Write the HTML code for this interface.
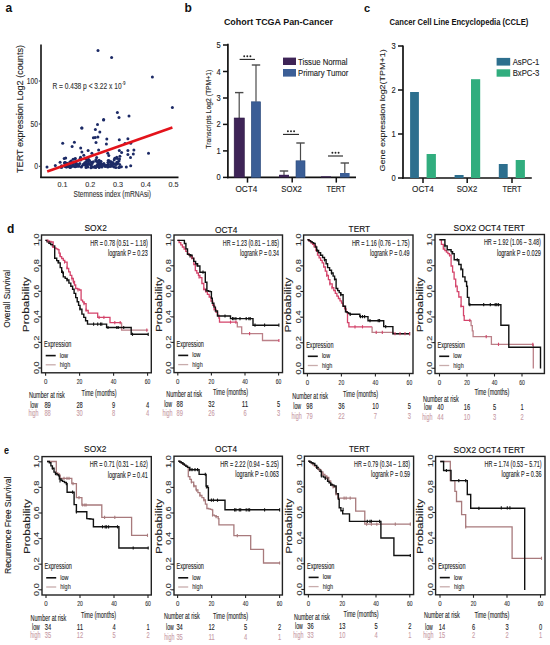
<!DOCTYPE html>
<html><head><meta charset="utf-8"><style>
html,body{margin:0;padding:0;background:#fff;}
svg{display:block;font-family:"Liberation Sans", sans-serif;}
</style></head><body>
<svg width="550" height="645" viewBox="0 0 550 645">
<rect x="0" y="0" width="550" height="645" fill="#fff"/>
<text x="5.5" y="11.8" font-size="12" font-weight="700" fill="#111" text-anchor="start">a</text>
<text transform="translate(23.4,109.0) rotate(-90)" x="0" y="0" font-size="9" font-weight="400" fill="#222" text-anchor="middle" textLength="128.0" lengthAdjust="spacingAndGlyphs" stroke="#222" stroke-width="0.12">TERT expression Log2 (counts)</text>
<line x1="41.0" y1="44.5" x2="41.0" y2="178.0" stroke="#111" stroke-width="1.6"/>
<line x1="40.2" y1="177.4" x2="178.5" y2="177.4" stroke="#111" stroke-width="1.7"/>
<line x1="38.8" y1="81.0" x2="41.0" y2="81.0" stroke="#333" stroke-width="1"/>
<text x="38.0" y="83.9" font-size="8.2" font-weight="400" fill="#333" text-anchor="end" textLength="11.2" lengthAdjust="spacingAndGlyphs" stroke="#333" stroke-width="0.12">100</text>
<line x1="38.8" y1="124.0" x2="41.0" y2="124.0" stroke="#333" stroke-width="1"/>
<text x="38.0" y="126.9" font-size="8.2" font-weight="400" fill="#333" text-anchor="end" textLength="7.5" lengthAdjust="spacingAndGlyphs" stroke="#333" stroke-width="0.12">50</text>
<line x1="38.8" y1="166.3" x2="41.0" y2="166.3" stroke="#333" stroke-width="1"/>
<text x="38.0" y="169.2" font-size="8.2" font-weight="400" fill="#333" text-anchor="end" textLength="3.8" lengthAdjust="spacingAndGlyphs" stroke="#333" stroke-width="0.12">0</text>
<text x="62.4" y="186.6" font-size="7.6" font-weight="400" fill="#333" text-anchor="middle" textLength="10.0" lengthAdjust="spacingAndGlyphs" stroke="#333" stroke-width="0.12">0.1</text>
<text x="90.2" y="186.6" font-size="7.6" font-weight="400" fill="#333" text-anchor="middle" textLength="10.0" lengthAdjust="spacingAndGlyphs" stroke="#333" stroke-width="0.12">0.2</text>
<text x="118.0" y="186.6" font-size="7.6" font-weight="400" fill="#333" text-anchor="middle" textLength="10.0" lengthAdjust="spacingAndGlyphs" stroke="#333" stroke-width="0.12">0.3</text>
<text x="145.8" y="186.6" font-size="7.6" font-weight="400" fill="#333" text-anchor="middle" textLength="10.0" lengthAdjust="spacingAndGlyphs" stroke="#333" stroke-width="0.12">0.4</text>
<text x="173.6" y="186.6" font-size="7.6" font-weight="400" fill="#333" text-anchor="middle" textLength="10.0" lengthAdjust="spacingAndGlyphs" stroke="#333" stroke-width="0.12">0.5</text>
<text x="73.6" y="197.0" font-size="9" font-weight="400" fill="#333" text-anchor="start" textLength="77.3" lengthAdjust="spacingAndGlyphs" stroke="#333" stroke-width="0.12">Stemness index (mRNAsi)</text>
<text x="52.4" y="89.0" font-size="8.4" font-weight="400" fill="#333" text-anchor="start" textLength="69.2" lengthAdjust="spacingAndGlyphs" stroke="#333" stroke-width="0.12">R = 0.438 p &lt; 3.22 x 10</text>
<text x="122.0" y="85.4" font-size="4.5" font-weight="400" fill="#333" text-anchor="start" textLength="3.5" lengthAdjust="spacingAndGlyphs" stroke="#333" stroke-width="0.12">-9</text>
<circle cx="47.0" cy="167.1" r="1.5" fill="#1c2a66"/>
<circle cx="55.3" cy="165.6" r="1.5" fill="#1c2a66"/>
<circle cx="60.1" cy="162.3" r="1.5" fill="#1c2a66"/>
<circle cx="62.7" cy="143.2" r="1.5" fill="#1c2a66"/>
<circle cx="72.1" cy="146.5" r="1.5" fill="#1c2a66"/>
<circle cx="74.4" cy="142.3" r="1.5" fill="#1c2a66"/>
<circle cx="81.7" cy="127.9" r="1.5" fill="#1c2a66"/>
<circle cx="80.7" cy="148.0" r="1.5" fill="#1c2a66"/>
<circle cx="88.1" cy="150.5" r="1.5" fill="#1c2a66"/>
<circle cx="91.9" cy="153.3" r="1.5" fill="#1c2a66"/>
<circle cx="97.5" cy="124.5" r="1.5" fill="#1c2a66"/>
<circle cx="95.4" cy="129.5" r="1.5" fill="#1c2a66"/>
<circle cx="99.8" cy="132.1" r="1.5" fill="#1c2a66"/>
<circle cx="93.4" cy="137.8" r="1.5" fill="#1c2a66"/>
<circle cx="95.2" cy="137.6" r="1.5" fill="#1c2a66"/>
<circle cx="97.9" cy="137.0" r="1.5" fill="#1c2a66"/>
<circle cx="96.0" cy="142.5" r="1.5" fill="#1c2a66"/>
<circle cx="98.6" cy="149.9" r="1.5" fill="#1c2a66"/>
<circle cx="106.8" cy="139.0" r="1.5" fill="#1c2a66"/>
<circle cx="106.4" cy="143.9" r="1.5" fill="#1c2a66"/>
<circle cx="103.6" cy="120.0" r="1.5" fill="#1c2a66"/>
<circle cx="119.3" cy="139.7" r="1.5" fill="#1c2a66"/>
<circle cx="127.9" cy="138.8" r="1.5" fill="#1c2a66"/>
<circle cx="125.0" cy="143.5" r="1.5" fill="#1c2a66"/>
<circle cx="130.7" cy="143.2" r="1.5" fill="#1c2a66"/>
<circle cx="107.8" cy="153.3" r="1.5" fill="#1c2a66"/>
<circle cx="108.8" cy="155.6" r="1.5" fill="#1c2a66"/>
<circle cx="119.3" cy="150.5" r="1.5" fill="#1c2a66"/>
<circle cx="121.6" cy="152.5" r="1.5" fill="#1c2a66"/>
<circle cx="127.9" cy="150.5" r="1.5" fill="#1c2a66"/>
<circle cx="133.9" cy="149.9" r="1.5" fill="#1c2a66"/>
<circle cx="127.9" cy="154.4" r="1.5" fill="#1c2a66"/>
<circle cx="133.3" cy="154.1" r="1.5" fill="#1c2a66"/>
<circle cx="130.5" cy="157.5" r="1.5" fill="#1c2a66"/>
<circle cx="148.5" cy="153.3" r="1.5" fill="#1c2a66"/>
<circle cx="119.9" cy="156.3" r="1.5" fill="#1c2a66"/>
<circle cx="116.7" cy="157.2" r="1.5" fill="#1c2a66"/>
<circle cx="114.8" cy="158.2" r="1.5" fill="#1c2a66"/>
<circle cx="114.2" cy="159.7" r="1.5" fill="#1c2a66"/>
<circle cx="119.0" cy="161.0" r="1.5" fill="#1c2a66"/>
<circle cx="109.1" cy="160.7" r="1.5" fill="#1c2a66"/>
<circle cx="111.0" cy="161.7" r="1.5" fill="#1c2a66"/>
<circle cx="126.3" cy="167.1" r="1.5" fill="#1c2a66"/>
<circle cx="130.7" cy="165.8" r="1.5" fill="#1c2a66"/>
<circle cx="114.2" cy="167.1" r="1.5" fill="#1c2a66"/>
<circle cx="107.8" cy="167.1" r="1.5" fill="#1c2a66"/>
<circle cx="98.0" cy="50.6" r="1.5" fill="#1c2a66"/>
<circle cx="111.6" cy="57.4" r="1.5" fill="#1c2a66"/>
<circle cx="152.4" cy="77.0" r="1.5" fill="#1c2a66"/>
<circle cx="172.4" cy="107.4" r="1.5" fill="#1c2a66"/>
<circle cx="117.4" cy="112.4" r="1.5" fill="#1c2a66"/>
<circle cx="119.0" cy="117.4" r="1.5" fill="#1c2a66"/>
<circle cx="129.0" cy="116.0" r="1.5" fill="#1c2a66"/>
<circle cx="103.6" cy="119.4" r="1.5" fill="#1c2a66"/>
<circle cx="82.0" cy="128.0" r="1.5" fill="#1c2a66"/>
<circle cx="73.0" cy="163.4" r="1.5" fill="#1c2a66"/>
<circle cx="86.9" cy="166.5" r="1.5" fill="#1c2a66"/>
<circle cx="87.8" cy="167.1" r="1.5" fill="#1c2a66"/>
<circle cx="95.8" cy="167.5" r="1.5" fill="#1c2a66"/>
<circle cx="73.9" cy="166.2" r="1.5" fill="#1c2a66"/>
<circle cx="81.9" cy="152.0" r="1.5" fill="#1c2a66"/>
<circle cx="95.8" cy="161.0" r="1.5" fill="#1c2a66"/>
<circle cx="69.7" cy="166.8" r="1.5" fill="#1c2a66"/>
<circle cx="88.1" cy="163.9" r="1.5" fill="#1c2a66"/>
<circle cx="92.2" cy="163.5" r="1.5" fill="#1c2a66"/>
<circle cx="89.5" cy="160.4" r="1.5" fill="#1c2a66"/>
<circle cx="86.5" cy="164.6" r="1.5" fill="#1c2a66"/>
<circle cx="75.4" cy="158.4" r="1.5" fill="#1c2a66"/>
<circle cx="82.0" cy="165.9" r="1.5" fill="#1c2a66"/>
<circle cx="91.3" cy="162.3" r="1.5" fill="#1c2a66"/>
<circle cx="99.0" cy="162.6" r="1.5" fill="#1c2a66"/>
<circle cx="79.0" cy="166.2" r="1.5" fill="#1c2a66"/>
<circle cx="99.6" cy="162.9" r="1.5" fill="#1c2a66"/>
<circle cx="97.4" cy="165.7" r="1.5" fill="#1c2a66"/>
<circle cx="72.2" cy="166.3" r="1.5" fill="#1c2a66"/>
<circle cx="100.7" cy="161.6" r="1.5" fill="#1c2a66"/>
<circle cx="75.4" cy="165.2" r="1.5" fill="#1c2a66"/>
<circle cx="83.3" cy="164.4" r="1.5" fill="#1c2a66"/>
<circle cx="86.2" cy="164.9" r="1.5" fill="#1c2a66"/>
<circle cx="86.2" cy="161.8" r="1.5" fill="#1c2a66"/>
<circle cx="99.3" cy="163.7" r="1.5" fill="#1c2a66"/>
<circle cx="96.5" cy="160.7" r="1.5" fill="#1c2a66"/>
<circle cx="70.2" cy="167.4" r="1.5" fill="#1c2a66"/>
<circle cx="96.7" cy="157.6" r="1.5" fill="#1c2a66"/>
<circle cx="85.6" cy="165.5" r="1.5" fill="#1c2a66"/>
<circle cx="91.1" cy="165.6" r="1.5" fill="#1c2a66"/>
<circle cx="85.8" cy="159.0" r="1.5" fill="#1c2a66"/>
<circle cx="74.8" cy="159.1" r="1.5" fill="#1c2a66"/>
<circle cx="101.6" cy="164.1" r="1.5" fill="#1c2a66"/>
<circle cx="67.4" cy="166.3" r="1.5" fill="#1c2a66"/>
<circle cx="69.7" cy="163.1" r="1.5" fill="#1c2a66"/>
<circle cx="75.2" cy="166.7" r="1.5" fill="#1c2a66"/>
<circle cx="65.7" cy="158.1" r="1.5" fill="#1c2a66"/>
<circle cx="87.4" cy="160.5" r="1.5" fill="#1c2a66"/>
<circle cx="76.6" cy="165.7" r="1.5" fill="#1c2a66"/>
<circle cx="97.5" cy="162.1" r="1.5" fill="#1c2a66"/>
<circle cx="101.9" cy="167.1" r="1.5" fill="#1c2a66"/>
<circle cx="75.8" cy="162.0" r="1.5" fill="#1c2a66"/>
<circle cx="65.2" cy="164.8" r="1.5" fill="#1c2a66"/>
<circle cx="71.5" cy="162.3" r="1.5" fill="#1c2a66"/>
<circle cx="69.9" cy="164.2" r="1.5" fill="#1c2a66"/>
<circle cx="65.6" cy="165.0" r="1.5" fill="#1c2a66"/>
<circle cx="100.4" cy="164.7" r="1.5" fill="#1c2a66"/>
<circle cx="98.1" cy="164.0" r="1.5" fill="#1c2a66"/>
<circle cx="83.8" cy="164.1" r="1.5" fill="#1c2a66"/>
<circle cx="88.5" cy="162.7" r="1.5" fill="#1c2a66"/>
<circle cx="87.6" cy="164.3" r="1.5" fill="#1c2a66"/>
<circle cx="99.7" cy="162.7" r="1.5" fill="#1c2a66"/>
<circle cx="91.4" cy="167.6" r="1.5" fill="#1c2a66"/>
<circle cx="73.0" cy="163.6" r="1.5" fill="#1c2a66"/>
<circle cx="83.8" cy="155.2" r="1.5" fill="#1c2a66"/>
<circle cx="84.8" cy="162.8" r="1.5" fill="#1c2a66"/>
<circle cx="86.0" cy="167.4" r="1.5" fill="#1c2a66"/>
<circle cx="64.8" cy="162.7" r="1.5" fill="#1c2a66"/>
<circle cx="66.3" cy="163.3" r="1.5" fill="#1c2a66"/>
<circle cx="87.8" cy="160.7" r="1.5" fill="#1c2a66"/>
<circle cx="77.4" cy="166.3" r="1.5" fill="#1c2a66"/>
<circle cx="90.9" cy="167.7" r="1.5" fill="#1c2a66"/>
<circle cx="66.3" cy="166.8" r="1.5" fill="#1c2a66"/>
<circle cx="89.7" cy="164.2" r="1.5" fill="#1c2a66"/>
<circle cx="81.3" cy="167.0" r="1.5" fill="#1c2a66"/>
<circle cx="86.5" cy="165.9" r="1.5" fill="#1c2a66"/>
<circle cx="75.9" cy="163.7" r="1.5" fill="#1c2a66"/>
<circle cx="78.0" cy="164.5" r="1.5" fill="#1c2a66"/>
<circle cx="78.3" cy="165.5" r="1.5" fill="#1c2a66"/>
<circle cx="93.3" cy="161.7" r="1.5" fill="#1c2a66"/>
<circle cx="91.9" cy="166.8" r="1.5" fill="#1c2a66"/>
<circle cx="75.8" cy="166.3" r="1.5" fill="#1c2a66"/>
<circle cx="73.1" cy="159.3" r="1.5" fill="#1c2a66"/>
<circle cx="71.1" cy="161.0" r="1.5" fill="#1c2a66"/>
<circle cx="67.9" cy="164.9" r="1.5" fill="#1c2a66"/>
<circle cx="76.2" cy="163.2" r="1.5" fill="#1c2a66"/>
<circle cx="80.7" cy="159.9" r="1.5" fill="#1c2a66"/>
<circle cx="96.5" cy="165.7" r="1.5" fill="#1c2a66"/>
<circle cx="88.7" cy="164.0" r="1.5" fill="#1c2a66"/>
<circle cx="97.6" cy="164.5" r="1.5" fill="#1c2a66"/>
<circle cx="68.6" cy="166.8" r="1.5" fill="#1c2a66"/>
<circle cx="84.1" cy="164.6" r="1.5" fill="#1c2a66"/>
<circle cx="95.9" cy="159.7" r="1.5" fill="#1c2a66"/>
<circle cx="71.0" cy="166.2" r="1.5" fill="#1c2a66"/>
<circle cx="88.4" cy="159.2" r="1.5" fill="#1c2a66"/>
<circle cx="94.6" cy="166.4" r="1.5" fill="#1c2a66"/>
<circle cx="75.1" cy="165.7" r="1.5" fill="#1c2a66"/>
<circle cx="94.2" cy="167.2" r="1.5" fill="#1c2a66"/>
<circle cx="79.8" cy="163.4" r="1.5" fill="#1c2a66"/>
<circle cx="80.0" cy="158.7" r="1.5" fill="#1c2a66"/>
<circle cx="69.9" cy="162.0" r="1.5" fill="#1c2a66"/>
<circle cx="64.2" cy="158.5" r="1.5" fill="#1c2a66"/>
<circle cx="101.5" cy="164.4" r="1.5" fill="#1c2a66"/>
<circle cx="80.5" cy="157.3" r="1.5" fill="#1c2a66"/>
<circle cx="103.3" cy="164.8" r="1.5" fill="#1c2a66"/>
<circle cx="115.9" cy="164.6" r="1.5" fill="#1c2a66"/>
<circle cx="110.5" cy="162.5" r="1.5" fill="#1c2a66"/>
<circle cx="104.9" cy="166.2" r="1.5" fill="#1c2a66"/>
<circle cx="99.6" cy="165.3" r="1.5" fill="#1c2a66"/>
<circle cx="112.1" cy="166.0" r="1.5" fill="#1c2a66"/>
<circle cx="99.1" cy="160.3" r="1.5" fill="#1c2a66"/>
<circle cx="119.7" cy="164.5" r="1.5" fill="#1c2a66"/>
<circle cx="119.5" cy="158.9" r="1.5" fill="#1c2a66"/>
<circle cx="119.6" cy="167.2" r="1.5" fill="#1c2a66"/>
<circle cx="115.9" cy="167.5" r="1.5" fill="#1c2a66"/>
<circle cx="102.1" cy="165.9" r="1.5" fill="#1c2a66"/>
<circle cx="110.6" cy="161.9" r="1.5" fill="#1c2a66"/>
<circle cx="107.9" cy="162.4" r="1.5" fill="#1c2a66"/>
<circle cx="106.2" cy="165.6" r="1.5" fill="#1c2a66"/>
<circle cx="104.1" cy="164.7" r="1.5" fill="#1c2a66"/>
<circle cx="116.8" cy="164.1" r="1.5" fill="#1c2a66"/>
<circle cx="106.4" cy="166.1" r="1.5" fill="#1c2a66"/>
<circle cx="117.6" cy="162.9" r="1.5" fill="#1c2a66"/>
<circle cx="102.1" cy="165.3" r="1.5" fill="#1c2a66"/>
<circle cx="117.3" cy="158.6" r="1.5" fill="#1c2a66"/>
<circle cx="117.8" cy="161.9" r="1.5" fill="#1c2a66"/>
<circle cx="118.7" cy="167.5" r="1.5" fill="#1c2a66"/>
<circle cx="99.2" cy="167.4" r="1.5" fill="#1c2a66"/>
<circle cx="110.7" cy="164.5" r="1.5" fill="#1c2a66"/>
<circle cx="108.2" cy="160.6" r="1.5" fill="#1c2a66"/>
<circle cx="98.0" cy="166.6" r="1.5" fill="#1c2a66"/>
<circle cx="99.3" cy="166.3" r="1.5" fill="#1c2a66"/>
<circle cx="99.6" cy="166.2" r="1.5" fill="#1c2a66"/>
<circle cx="121.4" cy="166.7" r="1.5" fill="#1c2a66"/>
<circle cx="110.1" cy="166.4" r="1.5" fill="#1c2a66"/>
<circle cx="105.6" cy="166.3" r="1.5" fill="#1c2a66"/>
<circle cx="113.5" cy="164.2" r="1.5" fill="#1c2a66"/>
<circle cx="112.1" cy="166.0" r="1.5" fill="#1c2a66"/>
<circle cx="105.9" cy="165.7" r="1.5" fill="#1c2a66"/>
<circle cx="101.0" cy="161.5" r="1.5" fill="#1c2a66"/>
<circle cx="107.1" cy="165.5" r="1.5" fill="#1c2a66"/>
<circle cx="99.9" cy="166.0" r="1.5" fill="#1c2a66"/>
<circle cx="112.5" cy="164.1" r="1.5" fill="#1c2a66"/>
<circle cx="116.8" cy="162.3" r="1.5" fill="#1c2a66"/>
<circle cx="113.0" cy="162.6" r="1.5" fill="#1c2a66"/>
<circle cx="108.4" cy="164.4" r="1.5" fill="#1c2a66"/>
<circle cx="114.9" cy="164.3" r="1.5" fill="#1c2a66"/>
<circle cx="108.1" cy="166.2" r="1.5" fill="#1c2a66"/>
<circle cx="103.9" cy="163.4" r="1.5" fill="#1c2a66"/>
<circle cx="66.4" cy="167.1" r="1.5" fill="#1c2a66"/>
<circle cx="65.1" cy="166.4" r="1.5" fill="#1c2a66"/>
<circle cx="65.1" cy="162.4" r="1.5" fill="#1c2a66"/>
<circle cx="64.5" cy="162.7" r="1.5" fill="#1c2a66"/>
<circle cx="70.8" cy="166.9" r="1.5" fill="#1c2a66"/>
<circle cx="65.6" cy="165.2" r="1.5" fill="#1c2a66"/>
<circle cx="61.5" cy="165.8" r="1.5" fill="#1c2a66"/>
<circle cx="70.6" cy="163.4" r="1.5" fill="#1c2a66"/>
<circle cx="69.5" cy="165.1" r="1.5" fill="#1c2a66"/>
<circle cx="66.8" cy="163.3" r="1.5" fill="#1c2a66"/>
<circle cx="61.2" cy="167.2" r="1.5" fill="#1c2a66"/>
<circle cx="61.7" cy="167.3" r="1.5" fill="#1c2a66"/>
<line x1="47.2" y1="171.6" x2="172.4" y2="127.4" stroke="#e3131b" stroke-width="2.6" stroke-linecap="butt"/>
<text x="184.6" y="11.8" font-size="12" font-weight="700" fill="#111" text-anchor="start">b</text>
<text x="223.9" y="24.8" font-size="9" font-weight="700" fill="#111" text-anchor="start" textLength="109.0" lengthAdjust="spacingAndGlyphs">Cohort TCGA Pan-Cancer</text>
<text transform="translate(211.1,109.2) rotate(-90)" x="0" y="0" font-size="7" font-weight="400" fill="#222" text-anchor="middle" textLength="79.0" lengthAdjust="spacingAndGlyphs" stroke="#222" stroke-width="0.12">Transcripts Log2 (TPM+1)</text>
<line x1="227.9" y1="43.7" x2="227.9" y2="178.2" stroke="#111" stroke-width="1.7"/>
<line x1="227.0" y1="177.4" x2="356.0" y2="177.4" stroke="#111" stroke-width="1.7"/>
<line x1="223.0" y1="177.4" x2="228.0" y2="177.4" stroke="#111" stroke-width="1.5"/>
<text x="218.6" y="180.4" font-size="8.6" font-weight="400" fill="#222" text-anchor="middle" textLength="4.2" lengthAdjust="spacingAndGlyphs" stroke="#222" stroke-width="0.12">0</text>
<line x1="223.0" y1="150.9" x2="228.0" y2="150.9" stroke="#111" stroke-width="1.5"/>
<text x="218.6" y="153.9" font-size="8.6" font-weight="400" fill="#222" text-anchor="middle" textLength="4.2" lengthAdjust="spacingAndGlyphs" stroke="#222" stroke-width="0.12">1</text>
<line x1="223.0" y1="124.4" x2="228.0" y2="124.4" stroke="#111" stroke-width="1.5"/>
<text x="218.6" y="127.4" font-size="8.6" font-weight="400" fill="#222" text-anchor="middle" textLength="4.2" lengthAdjust="spacingAndGlyphs" stroke="#222" stroke-width="0.12">2</text>
<line x1="223.0" y1="98.0" x2="228.0" y2="98.0" stroke="#111" stroke-width="1.5"/>
<text x="218.6" y="101.0" font-size="8.6" font-weight="400" fill="#222" text-anchor="middle" textLength="4.2" lengthAdjust="spacingAndGlyphs" stroke="#222" stroke-width="0.12">3</text>
<line x1="223.0" y1="71.5" x2="228.0" y2="71.5" stroke="#111" stroke-width="1.5"/>
<text x="218.6" y="74.5" font-size="8.6" font-weight="400" fill="#222" text-anchor="middle" textLength="4.2" lengthAdjust="spacingAndGlyphs" stroke="#222" stroke-width="0.12">4</text>
<line x1="223.0" y1="45.0" x2="228.0" y2="45.0" stroke="#111" stroke-width="1.5"/>
<text x="218.6" y="48.0" font-size="8.6" font-weight="400" fill="#222" text-anchor="middle" textLength="4.2" lengthAdjust="spacingAndGlyphs" stroke="#222" stroke-width="0.12">5</text>
<line x1="247.5" y1="177.4" x2="247.5" y2="182.6" stroke="#111" stroke-width="1.5"/>
<line x1="292.2" y1="177.4" x2="292.2" y2="182.6" stroke="#111" stroke-width="1.5"/>
<line x1="336.3" y1="177.4" x2="336.3" y2="182.6" stroke="#111" stroke-width="1.5"/>
<text x="246.4" y="192.0" font-size="8.4" font-weight="400" fill="#222" text-anchor="middle" textLength="21.8" lengthAdjust="spacingAndGlyphs" stroke="#222" stroke-width="0.12">OCT4</text>
<text x="291.6" y="192.0" font-size="8.4" font-weight="400" fill="#222" text-anchor="middle" textLength="20.7" lengthAdjust="spacingAndGlyphs" stroke="#222" stroke-width="0.12">SOX2</text>
<text x="336.0" y="192.0" font-size="8.4" font-weight="400" fill="#222" text-anchor="middle" textLength="19.2" lengthAdjust="spacingAndGlyphs" stroke="#222" stroke-width="0.12">TERT</text>
<line x1="239.2" y1="118.0" x2="239.2" y2="92.6" stroke="#4a4a4a" stroke-width="1.2"/>
<line x1="235.0" y1="92.6" x2="243.4" y2="92.6" stroke="#4a4a4a" stroke-width="1.4"/>
<line x1="256.0" y1="101.8" x2="256.0" y2="65.0" stroke="#4a4a4a" stroke-width="1.2"/>
<line x1="251.8" y1="65.0" x2="260.2" y2="65.0" stroke="#4a4a4a" stroke-width="1.4"/>
<line x1="284.0" y1="175.0" x2="284.0" y2="171.0" stroke="#4a4a4a" stroke-width="1.2"/>
<line x1="279.8" y1="171.0" x2="288.2" y2="171.0" stroke="#4a4a4a" stroke-width="1.4"/>
<line x1="300.5" y1="160.8" x2="300.5" y2="143.0" stroke="#4a4a4a" stroke-width="1.2"/>
<line x1="296.3" y1="143.0" x2="304.7" y2="143.0" stroke="#4a4a4a" stroke-width="1.4"/>
<line x1="344.8" y1="173.0" x2="344.8" y2="163.0" stroke="#4a4a4a" stroke-width="1.2"/>
<line x1="340.6" y1="163.0" x2="349.0" y2="163.0" stroke="#4a4a4a" stroke-width="1.4"/>
<rect x="234.2" y="118.0" width="10.1" height="59.4" fill="#3e2457" stroke="#2a1640" stroke-width="0.6"/>
<rect x="251.3" y="101.8" width="9.3" height="75.6" fill="#3b5e96" stroke="#2c4a7a" stroke-width="0.6"/>
<rect x="279.0" y="174.8" width="10.0" height="2.6" fill="#3e2457" stroke="none" stroke-width="0"/>
<rect x="296.0" y="160.8" width="9.0" height="16.6" fill="#3b5e96" stroke="#2c4a7a" stroke-width="0.6"/>
<rect x="321.0" y="176.3" width="10.0" height="1.1" fill="#3e2457" stroke="none" stroke-width="0"/>
<rect x="340.0" y="173.0" width="9.6" height="4.4" fill="#3b5e96" stroke="none" stroke-width="0"/>
<line x1="239.6" y1="59.4" x2="255.0" y2="59.4" stroke="#222" stroke-width="1.1"/>
<circle cx="244.2" cy="56.2" r="0.95" fill="#222"/>
<circle cx="247.3" cy="56.2" r="0.95" fill="#222"/>
<circle cx="250.4" cy="56.2" r="0.95" fill="#222"/>
<line x1="283.0" y1="134.4" x2="299.0" y2="134.4" stroke="#222" stroke-width="1.1"/>
<circle cx="287.9" cy="131.2" r="0.95" fill="#222"/>
<circle cx="291.0" cy="131.2" r="0.95" fill="#222"/>
<circle cx="294.1" cy="131.2" r="0.95" fill="#222"/>
<line x1="328.0" y1="156.0" x2="343.0" y2="156.0" stroke="#222" stroke-width="1.1"/>
<circle cx="332.4" cy="152.8" r="0.95" fill="#222"/>
<circle cx="335.5" cy="152.8" r="0.95" fill="#222"/>
<circle cx="338.6" cy="152.8" r="0.95" fill="#222"/>
<rect x="283.0" y="57.6" width="13.0" height="7.4" fill="#3e2457" stroke="none" stroke-width="0"/>
<rect x="283.0" y="69.0" width="13.0" height="7.6" fill="#3b5e96" stroke="none" stroke-width="0"/>
<text x="298.0" y="64.8" font-size="8.8" font-weight="400" fill="#222" text-anchor="start" textLength="49.6" lengthAdjust="spacingAndGlyphs" stroke="#222" stroke-width="0.12">Tissue Normal</text>
<text x="298.0" y="76.3" font-size="8.8" font-weight="400" fill="#222" text-anchor="start" textLength="50.4" lengthAdjust="spacingAndGlyphs" stroke="#222" stroke-width="0.12">Primary Tumor</text>
<text x="364.0" y="12.4" font-size="11" font-weight="700" fill="#111" text-anchor="start">c</text>
<text x="389.6" y="25.1" font-size="9" font-weight="700" fill="#111" text-anchor="start" textLength="138.8" lengthAdjust="spacingAndGlyphs">Cancer Cell Line Encyclopedia (CCLE)</text>
<text transform="translate(384.6,110.4) rotate(-90)" x="0" y="0" font-size="8" font-weight="400" fill="#222" text-anchor="middle" textLength="122.0" lengthAdjust="spacingAndGlyphs" stroke="#222" stroke-width="0.12">Gene expression log2(TPM+1)</text>
<line x1="403.0" y1="45.6" x2="403.0" y2="178.8" stroke="#111" stroke-width="1.7"/>
<line x1="402.2" y1="178.0" x2="531.8" y2="178.0" stroke="#111" stroke-width="1.7"/>
<line x1="398.0" y1="178.0" x2="403.0" y2="178.0" stroke="#111" stroke-width="1.5"/>
<text x="393.5" y="181.0" font-size="8.6" font-weight="400" fill="#222" text-anchor="middle" textLength="4.2" lengthAdjust="spacingAndGlyphs" stroke="#222" stroke-width="0.12">0</text>
<line x1="398.0" y1="134.0" x2="403.0" y2="134.0" stroke="#111" stroke-width="1.5"/>
<text x="393.5" y="137.0" font-size="8.6" font-weight="400" fill="#222" text-anchor="middle" textLength="4.2" lengthAdjust="spacingAndGlyphs" stroke="#222" stroke-width="0.12">1</text>
<line x1="398.0" y1="90.0" x2="403.0" y2="90.0" stroke="#111" stroke-width="1.5"/>
<text x="393.5" y="93.0" font-size="8.6" font-weight="400" fill="#222" text-anchor="middle" textLength="4.2" lengthAdjust="spacingAndGlyphs" stroke="#222" stroke-width="0.12">2</text>
<line x1="398.0" y1="46.0" x2="403.0" y2="46.0" stroke="#111" stroke-width="1.5"/>
<text x="393.5" y="49.0" font-size="8.6" font-weight="400" fill="#222" text-anchor="middle" textLength="4.2" lengthAdjust="spacingAndGlyphs" stroke="#222" stroke-width="0.12">3</text>
<line x1="423.0" y1="178.0" x2="423.0" y2="183.0" stroke="#111" stroke-width="1.5"/>
<line x1="467.2" y1="178.0" x2="467.2" y2="183.0" stroke="#111" stroke-width="1.5"/>
<line x1="512.0" y1="178.0" x2="512.0" y2="183.0" stroke="#111" stroke-width="1.5"/>
<text x="423.0" y="192.2" font-size="8.4" font-weight="400" fill="#222" text-anchor="middle" textLength="21.8" lengthAdjust="spacingAndGlyphs" stroke="#222" stroke-width="0.12">OCT4</text>
<text x="467.0" y="192.2" font-size="8.4" font-weight="400" fill="#222" text-anchor="middle" textLength="20.7" lengthAdjust="spacingAndGlyphs" stroke="#222" stroke-width="0.12">SOX2</text>
<text x="512.0" y="192.2" font-size="8.4" font-weight="400" fill="#222" text-anchor="middle" textLength="19.2" lengthAdjust="spacingAndGlyphs" stroke="#222" stroke-width="0.12">TERT</text>
<rect x="410.1" y="92.0" width="8.8" height="86.0" fill="#2d6f8e" stroke="none" stroke-width="0"/>
<rect x="454.6" y="175.0" width="9.0" height="3.0" fill="#2d6f8e" stroke="none" stroke-width="0"/>
<rect x="498.8" y="164.0" width="8.9" height="14.0" fill="#2d6f8e" stroke="none" stroke-width="0"/>
<rect x="426.6" y="154.0" width="9.3" height="24.0" fill="#31ad7e" stroke="none" stroke-width="0"/>
<rect x="471.0" y="79.2" width="9.2" height="98.8" fill="#31ad7e" stroke="none" stroke-width="0"/>
<rect x="515.7" y="160.0" width="9.2" height="18.0" fill="#31ad7e" stroke="none" stroke-width="0"/>
<rect x="496.6" y="57.9" width="13.6" height="7.7" fill="#2d6f8e" stroke="none" stroke-width="0"/>
<rect x="496.6" y="69.3" width="13.6" height="7.4" fill="#31ad7e" stroke="none" stroke-width="0"/>
<text x="512.7" y="65.4" font-size="8.8" font-weight="400" fill="#222" text-anchor="start" textLength="26.6" lengthAdjust="spacingAndGlyphs" stroke="#222" stroke-width="0.12">AsPC-1</text>
<text x="512.7" y="76.2" font-size="8.8" font-weight="400" fill="#222" text-anchor="start" textLength="26.6" lengthAdjust="spacingAndGlyphs" stroke="#222" stroke-width="0.12">BxPC-3</text>
<text x="6.9" y="232.8" font-size="12" font-weight="700" fill="#111" text-anchor="start">d</text>
<text x="4.0" y="453.9" font-size="11" font-weight="700" fill="#111" text-anchor="start" textLength="5.0" lengthAdjust="spacingAndGlyphs">e</text>
<text transform="translate(10.2,298.8) rotate(-90)" x="0" y="0" font-size="8.6" font-weight="400" fill="#222" text-anchor="middle" textLength="58.0" lengthAdjust="spacingAndGlyphs" stroke="#222" stroke-width="0.12">Overall Survival</text>
<text transform="translate(10.7,525.3) rotate(-90)" x="0" y="0" font-size="8.6" font-weight="400" fill="#222" text-anchor="middle" textLength="97.3" lengthAdjust="spacingAndGlyphs" stroke="#222" stroke-width="0.12">Recurrence Free Survival</text>
<rect x="41.5" y="235.0" width="109.8" height="137.8" fill="none" stroke="#222" stroke-width="1.4"/>
<line x1="38.7" y1="368.0" x2="41.5" y2="368.0" stroke="#222" stroke-width="1.1"/>
<text transform="translate(38.6,367.7) rotate(-90)" x="0" y="0" font-size="8" font-weight="400" fill="#333" text-anchor="middle" textLength="12.8" lengthAdjust="spacingAndGlyphs" stroke="#333" stroke-width="0.12">0.0</text>
<line x1="38.7" y1="342.4" x2="41.5" y2="342.4" stroke="#222" stroke-width="1.1"/>
<text transform="translate(38.6,342.1) rotate(-90)" x="0" y="0" font-size="8" font-weight="400" fill="#333" text-anchor="middle" textLength="12.8" lengthAdjust="spacingAndGlyphs" stroke="#333" stroke-width="0.12">0.2</text>
<line x1="38.7" y1="316.9" x2="41.5" y2="316.9" stroke="#222" stroke-width="1.1"/>
<text transform="translate(38.6,316.6) rotate(-90)" x="0" y="0" font-size="8" font-weight="400" fill="#333" text-anchor="middle" textLength="12.8" lengthAdjust="spacingAndGlyphs" stroke="#333" stroke-width="0.12">0.4</text>
<line x1="38.7" y1="291.3" x2="41.5" y2="291.3" stroke="#222" stroke-width="1.1"/>
<text transform="translate(38.6,291.0) rotate(-90)" x="0" y="0" font-size="8" font-weight="400" fill="#333" text-anchor="middle" textLength="12.8" lengthAdjust="spacingAndGlyphs" stroke="#333" stroke-width="0.12">0.6</text>
<line x1="38.7" y1="265.8" x2="41.5" y2="265.8" stroke="#222" stroke-width="1.1"/>
<text transform="translate(38.6,265.5) rotate(-90)" x="0" y="0" font-size="8" font-weight="400" fill="#333" text-anchor="middle" textLength="12.8" lengthAdjust="spacingAndGlyphs" stroke="#333" stroke-width="0.12">0.8</text>
<line x1="38.7" y1="240.2" x2="41.5" y2="240.2" stroke="#222" stroke-width="1.1"/>
<text transform="translate(38.6,239.9) rotate(-90)" x="0" y="0" font-size="8" font-weight="400" fill="#333" text-anchor="middle" textLength="12.8" lengthAdjust="spacingAndGlyphs" stroke="#333" stroke-width="0.12">1.0</text>
<text transform="translate(29.3,304.7) rotate(-90)" x="0" y="0" font-size="9" font-weight="400" fill="#222" text-anchor="middle" textLength="55.0" lengthAdjust="spacingAndGlyphs" stroke="#222" stroke-width="0.12">Probability</text>
<line x1="45.6" y1="372.8" x2="45.6" y2="375.8" stroke="#222" stroke-width="1.1"/>
<text x="45.6" y="384.0" font-size="7.2" font-weight="400" fill="#333" text-anchor="middle" textLength="3.4" lengthAdjust="spacingAndGlyphs" stroke="#333" stroke-width="0.12">0</text>
<line x1="79.6" y1="372.8" x2="79.6" y2="375.8" stroke="#222" stroke-width="1.1"/>
<text x="79.6" y="384.0" font-size="7.2" font-weight="400" fill="#333" text-anchor="middle" textLength="5.6" lengthAdjust="spacingAndGlyphs" stroke="#333" stroke-width="0.12">20</text>
<line x1="113.6" y1="372.8" x2="113.6" y2="375.8" stroke="#222" stroke-width="1.1"/>
<text x="113.6" y="384.0" font-size="7.2" font-weight="400" fill="#333" text-anchor="middle" textLength="5.6" lengthAdjust="spacingAndGlyphs" stroke="#333" stroke-width="0.12">40</text>
<line x1="147.6" y1="372.8" x2="147.6" y2="375.8" stroke="#222" stroke-width="1.1"/>
<text x="147.6" y="384.0" font-size="7.2" font-weight="400" fill="#333" text-anchor="middle" textLength="5.6" lengthAdjust="spacingAndGlyphs" stroke="#333" stroke-width="0.12">60</text>
<text x="84.5" y="230.7" font-size="9" font-weight="400" fill="#111" text-anchor="start" textLength="22.3" lengthAdjust="spacingAndGlyphs" stroke="#111" stroke-width="0.12">SOX2</text>
<text x="147.8" y="245.8" font-size="8.2" font-weight="400" fill="#222" text-anchor="end" textLength="57.6" lengthAdjust="spacingAndGlyphs" stroke="#222" stroke-width="0.12">HR = 0.78 (0.51 − 1.18)</text>
<text x="147.8" y="256.0" font-size="8.2" font-weight="400" fill="#222" text-anchor="end" textLength="39.8" lengthAdjust="spacingAndGlyphs" stroke="#222" stroke-width="0.12">logrank P = 0.23</text>
<text x="44.1" y="346.8" font-size="8.6" font-weight="400" fill="#222" text-anchor="start" textLength="27.3" lengthAdjust="spacingAndGlyphs" stroke="#222" stroke-width="0.12">Expression</text>
<line x1="45.7" y1="355.6" x2="55.7" y2="355.6" stroke="#111" stroke-width="1.6"/>
<text x="59.8" y="357.6" font-size="8" font-weight="400" fill="#222" text-anchor="start" textLength="8.2" lengthAdjust="spacingAndGlyphs" stroke="#222" stroke-width="0.12">low</text>
<line x1="45.7" y1="364.8" x2="55.7" y2="364.8" stroke="#c8acac" stroke-width="1.3"/>
<text x="59.8" y="367.2" font-size="8" font-weight="400" fill="#333" text-anchor="start" textLength="10.4" lengthAdjust="spacingAndGlyphs" stroke="#333" stroke-width="0.12">high</text>
<text x="29.1" y="398.3" font-size="9" font-weight="400" fill="#222" text-anchor="start" textLength="35.7" lengthAdjust="spacingAndGlyphs" stroke="#222" stroke-width="0.12">Number at risk</text>
<text x="81.6" y="396.0" font-size="9" font-weight="400" fill="#222" text-anchor="start" textLength="35.0" lengthAdjust="spacingAndGlyphs" stroke="#222" stroke-width="0.12">Time (months)</text>
<text x="30.2" y="407.9" font-size="9" font-weight="400" fill="#222" text-anchor="start" textLength="7.8" lengthAdjust="spacingAndGlyphs" stroke="#222" stroke-width="0.12">low</text>
<text x="28.4" y="416.1" font-size="9" font-weight="400" fill="#c99ca6" text-anchor="start" textLength="10.2" lengthAdjust="spacingAndGlyphs" stroke="#c99ca6" stroke-width="0.12">high</text>
<text x="47.6" y="407.9" font-size="9" font-weight="400" fill="#222" text-anchor="middle" textLength="6.4" lengthAdjust="spacingAndGlyphs" stroke="#222" stroke-width="0.12">89</text>
<text x="47.6" y="416.1" font-size="9" font-weight="400" fill="#c99ca6" text-anchor="middle" textLength="6.4" lengthAdjust="spacingAndGlyphs" stroke="#c99ca6" stroke-width="0.12">88</text>
<text x="79.6" y="407.9" font-size="9" font-weight="400" fill="#222" text-anchor="middle" textLength="6.4" lengthAdjust="spacingAndGlyphs" stroke="#222" stroke-width="0.12">28</text>
<text x="79.6" y="416.1" font-size="9" font-weight="400" fill="#c99ca6" text-anchor="middle" textLength="6.4" lengthAdjust="spacingAndGlyphs" stroke="#c99ca6" stroke-width="0.12">30</text>
<text x="113.6" y="407.9" font-size="9" font-weight="400" fill="#222" text-anchor="middle" textLength="3.2" lengthAdjust="spacingAndGlyphs" stroke="#222" stroke-width="0.12">9</text>
<text x="113.6" y="416.1" font-size="9" font-weight="400" fill="#c99ca6" text-anchor="middle" textLength="3.2" lengthAdjust="spacingAndGlyphs" stroke="#c99ca6" stroke-width="0.12">8</text>
<text x="147.6" y="407.9" font-size="9" font-weight="400" fill="#222" text-anchor="middle" textLength="3.2" lengthAdjust="spacingAndGlyphs" stroke="#222" stroke-width="0.12">4</text>
<text x="147.6" y="416.1" font-size="9" font-weight="400" fill="#c99ca6" text-anchor="middle" textLength="3.2" lengthAdjust="spacingAndGlyphs" stroke="#c99ca6" stroke-width="0.12">4</text>
<polyline points="45.4,240.4 47.2,240.4 47.2,240.9 49.1,240.9 49.1,241.5 50.9,241.5 50.9,242.0 53.2,242.0 53.2,247.4 54.7,247.4 54.7,248.2 56.3,248.2 56.3,248.9 57.8,248.9 57.8,249.7 59.0,249.7 59.0,253.2 60.2,253.2 60.2,256.7 61.7,256.7 61.7,258.5 63.3,258.5 63.3,260.3 64.8,260.3 64.8,262.1 67.1,262.1 67.1,268.3 68.7,268.3 68.7,271.8 70.2,271.8 70.2,275.3 71.8,275.3 71.8,278.4 73.3,278.4 73.3,281.5 74.5,281.5 74.5,285.0 75.7,285.0 75.7,288.5 77.6,288.5 77.6,289.2 79.5,289.2 79.5,290.0 81.1,290.0 81.1,300.1 82.6,300.1 82.6,301.9 84.1,301.9 84.1,303.6 86.1,303.6 86.1,310.5 88.2,310.5 88.2,313.2 97.1,313.2 97.1,313.2 97.7,313.2 97.7,317.3 109.3,317.3 109.3,317.3 110.0,317.3 110.0,322.7 120.9,322.7 120.9,322.7 121.6,322.7" fill="none" stroke="#d4436a" stroke-width="1.3" stroke-linejoin="miter"/>
<polyline points="121.6,322.7 121.6,330.2 148.2,330.2 148.2,330.2" fill="none" stroke="#bb8088" stroke-width="1.3" stroke-linejoin="miter"/>
<polyline points="45.4,240.4 47.1,240.4 47.1,241.8 48.9,241.8 48.9,243.2 50.6,243.2 50.6,244.5 52.4,244.5 52.4,245.9 54.7,245.9 54.7,258.3 56.7,258.3 56.7,260.6 58.6,260.6 58.6,262.9 60.2,262.9 60.2,267.6 61.7,267.6 61.7,272.2 63.3,272.2 63.3,276.9 65.2,276.9 65.2,278.4 67.1,278.4 67.1,280.0 68.9,280.0 68.9,283.1 70.8,283.1 70.8,286.2 72.6,286.2 72.6,289.3 74.1,289.3 74.1,293.4 75.7,293.4 75.7,297.6 77.2,297.6 77.2,301.7 78.6,301.7 78.6,305.4 80.0,305.4 80.0,309.1 81.9,309.1 81.9,314.1 83.8,314.1 83.8,317.4 85.6,317.4 85.6,320.8 87.5,320.8 87.5,324.1 105.2,324.1 105.2,324.1 106.6,324.1 106.6,327.5 130.5,327.5 130.5,327.5 131.2,327.5 131.2,334.3 148.2,334.3 148.2,334.3" fill="none" stroke="#111" stroke-width="1.4" stroke-linejoin="miter"/>
<line x1="93.6" y1="322.5" x2="93.6" y2="325.7" stroke="#111" stroke-width="1.1"/>
<line x1="97.7" y1="322.5" x2="97.7" y2="325.7" stroke="#111" stroke-width="1.1"/>
<line x1="100.5" y1="322.5" x2="100.5" y2="325.7" stroke="#111" stroke-width="1.1"/>
<line x1="101.8" y1="322.5" x2="101.8" y2="325.7" stroke="#111" stroke-width="1.1"/>
<line x1="108.0" y1="325.9" x2="108.0" y2="329.1" stroke="#111" stroke-width="1.1"/>
<line x1="116.8" y1="325.9" x2="116.8" y2="329.1" stroke="#111" stroke-width="1.1"/>
<line x1="118.2" y1="325.9" x2="118.2" y2="329.1" stroke="#111" stroke-width="1.1"/>
<line x1="123.7" y1="325.9" x2="123.7" y2="329.1" stroke="#111" stroke-width="1.1"/>
<line x1="132.5" y1="332.7" x2="132.5" y2="335.9" stroke="#111" stroke-width="1.1"/>
<line x1="148.2" y1="332.7" x2="148.2" y2="335.9" stroke="#111" stroke-width="1.1"/>
<line x1="58.0" y1="260.4" x2="58.0" y2="263.6" stroke="#111" stroke-width="1.1"/>
<line x1="62.5" y1="270.4" x2="62.5" y2="273.6" stroke="#111" stroke-width="1.1"/>
<line x1="67.0" y1="278.4" x2="67.0" y2="281.6" stroke="#111" stroke-width="1.1"/>
<line x1="80.0" y1="307.4" x2="80.0" y2="310.6" stroke="#111" stroke-width="1.1"/>
<line x1="99.1" y1="315.7" x2="99.1" y2="318.9" stroke="#d4436a" stroke-width="1.1"/>
<line x1="103.9" y1="315.7" x2="103.9" y2="318.9" stroke="#d4436a" stroke-width="1.1"/>
<line x1="114.8" y1="321.1" x2="114.8" y2="324.3" stroke="#d4436a" stroke-width="1.1"/>
<line x1="120.2" y1="321.1" x2="120.2" y2="324.3" stroke="#d4436a" stroke-width="1.1"/>
<line x1="146.8" y1="328.6" x2="146.8" y2="331.8" stroke="#d4436a" stroke-width="1.1"/>
<line x1="48.0" y1="239.4" x2="48.0" y2="242.6" stroke="#d4436a" stroke-width="1.1"/>
<line x1="53.0" y1="244.9" x2="53.0" y2="248.1" stroke="#d4436a" stroke-width="1.1"/>
<line x1="60.0" y1="253.4" x2="60.0" y2="256.6" stroke="#d4436a" stroke-width="1.1"/>
<line x1="64.5" y1="260.4" x2="64.5" y2="263.6" stroke="#d4436a" stroke-width="1.1"/>
<line x1="67.0" y1="266.4" x2="67.0" y2="269.6" stroke="#d4436a" stroke-width="1.1"/>
<line x1="72.0" y1="277.4" x2="72.0" y2="280.6" stroke="#d4436a" stroke-width="1.1"/>
<line x1="73.5" y1="280.4" x2="73.5" y2="283.6" stroke="#d4436a" stroke-width="1.1"/>
<line x1="78.0" y1="288.4" x2="78.0" y2="291.6" stroke="#d4436a" stroke-width="1.1"/>
<line x1="84.0" y1="302.0" x2="84.0" y2="305.2" stroke="#d4436a" stroke-width="1.1"/>
<line x1="86.1" y1="308.4" x2="86.1" y2="311.6" stroke="#d4436a" stroke-width="1.1"/>
<rect x="174.0" y="235.0" width="108.5" height="137.6" fill="none" stroke="#222" stroke-width="1.4"/>
<line x1="171.2" y1="368.0" x2="174.0" y2="368.0" stroke="#222" stroke-width="1.1"/>
<text transform="translate(171.1,367.7) rotate(-90)" x="0" y="0" font-size="8" font-weight="400" fill="#333" text-anchor="middle" textLength="12.8" lengthAdjust="spacingAndGlyphs" stroke="#333" stroke-width="0.12">0.0</text>
<line x1="171.2" y1="342.4" x2="174.0" y2="342.4" stroke="#222" stroke-width="1.1"/>
<text transform="translate(171.1,342.1) rotate(-90)" x="0" y="0" font-size="8" font-weight="400" fill="#333" text-anchor="middle" textLength="12.8" lengthAdjust="spacingAndGlyphs" stroke="#333" stroke-width="0.12">0.2</text>
<line x1="171.2" y1="316.9" x2="174.0" y2="316.9" stroke="#222" stroke-width="1.1"/>
<text transform="translate(171.1,316.6) rotate(-90)" x="0" y="0" font-size="8" font-weight="400" fill="#333" text-anchor="middle" textLength="12.8" lengthAdjust="spacingAndGlyphs" stroke="#333" stroke-width="0.12">0.4</text>
<line x1="171.2" y1="291.3" x2="174.0" y2="291.3" stroke="#222" stroke-width="1.1"/>
<text transform="translate(171.1,291.0) rotate(-90)" x="0" y="0" font-size="8" font-weight="400" fill="#333" text-anchor="middle" textLength="12.8" lengthAdjust="spacingAndGlyphs" stroke="#333" stroke-width="0.12">0.6</text>
<line x1="171.2" y1="265.8" x2="174.0" y2="265.8" stroke="#222" stroke-width="1.1"/>
<text transform="translate(171.1,265.5) rotate(-90)" x="0" y="0" font-size="8" font-weight="400" fill="#333" text-anchor="middle" textLength="12.8" lengthAdjust="spacingAndGlyphs" stroke="#333" stroke-width="0.12">0.8</text>
<line x1="171.2" y1="240.2" x2="174.0" y2="240.2" stroke="#222" stroke-width="1.1"/>
<text transform="translate(171.1,239.9) rotate(-90)" x="0" y="0" font-size="8" font-weight="400" fill="#333" text-anchor="middle" textLength="12.8" lengthAdjust="spacingAndGlyphs" stroke="#333" stroke-width="0.12">1.0</text>
<text transform="translate(161.8,304.6) rotate(-90)" x="0" y="0" font-size="9" font-weight="400" fill="#222" text-anchor="middle" textLength="55.0" lengthAdjust="spacingAndGlyphs" stroke="#222" stroke-width="0.12">Probability</text>
<line x1="177.8" y1="372.6" x2="177.8" y2="375.6" stroke="#222" stroke-width="1.1"/>
<text x="177.8" y="383.8" font-size="7.2" font-weight="400" fill="#333" text-anchor="middle" textLength="3.4" lengthAdjust="spacingAndGlyphs" stroke="#333" stroke-width="0.12">0</text>
<line x1="211.4" y1="372.6" x2="211.4" y2="375.6" stroke="#222" stroke-width="1.1"/>
<text x="211.4" y="383.8" font-size="7.2" font-weight="400" fill="#333" text-anchor="middle" textLength="5.6" lengthAdjust="spacingAndGlyphs" stroke="#333" stroke-width="0.12">20</text>
<line x1="245.0" y1="372.6" x2="245.0" y2="375.6" stroke="#222" stroke-width="1.1"/>
<text x="245.0" y="383.8" font-size="7.2" font-weight="400" fill="#333" text-anchor="middle" textLength="5.6" lengthAdjust="spacingAndGlyphs" stroke="#333" stroke-width="0.12">40</text>
<line x1="278.6" y1="372.6" x2="278.6" y2="375.6" stroke="#222" stroke-width="1.1"/>
<text x="278.6" y="383.8" font-size="7.2" font-weight="400" fill="#333" text-anchor="middle" textLength="5.6" lengthAdjust="spacingAndGlyphs" stroke="#333" stroke-width="0.12">60</text>
<text x="215.0" y="232.5" font-size="9" font-weight="400" fill="#111" text-anchor="start" textLength="22.3" lengthAdjust="spacingAndGlyphs" stroke="#111" stroke-width="0.12">OCT4</text>
<text x="279.0" y="245.8" font-size="8.2" font-weight="400" fill="#222" text-anchor="end" textLength="56.2" lengthAdjust="spacingAndGlyphs" stroke="#222" stroke-width="0.12">HR = 1.23 (0.81 − 1.85)</text>
<text x="279.0" y="256.0" font-size="8.2" font-weight="400" fill="#222" text-anchor="end" textLength="38.9" lengthAdjust="spacingAndGlyphs" stroke="#222" stroke-width="0.12">logrank P = 0.34</text>
<text x="176.6" y="346.6" font-size="8.6" font-weight="400" fill="#222" text-anchor="start" textLength="27.3" lengthAdjust="spacingAndGlyphs" stroke="#222" stroke-width="0.12">Expression</text>
<line x1="178.2" y1="355.4" x2="188.2" y2="355.4" stroke="#111" stroke-width="1.6"/>
<text x="192.3" y="357.4" font-size="8" font-weight="400" fill="#222" text-anchor="start" textLength="8.2" lengthAdjust="spacingAndGlyphs" stroke="#222" stroke-width="0.12">low</text>
<line x1="178.2" y1="364.6" x2="188.2" y2="364.6" stroke="#c8acac" stroke-width="1.3"/>
<text x="192.3" y="367.0" font-size="8" font-weight="400" fill="#333" text-anchor="start" textLength="10.4" lengthAdjust="spacingAndGlyphs" stroke="#333" stroke-width="0.12">high</text>
<text x="166.3" y="396.9" font-size="9" font-weight="400" fill="#222" text-anchor="start" textLength="35.7" lengthAdjust="spacingAndGlyphs" stroke="#222" stroke-width="0.12">Number at risk</text>
<text x="213.0" y="395.3" font-size="9" font-weight="400" fill="#222" text-anchor="start" textLength="35.0" lengthAdjust="spacingAndGlyphs" stroke="#222" stroke-width="0.12">Time (months)</text>
<text x="164.2" y="407.4" font-size="9" font-weight="400" fill="#222" text-anchor="start" textLength="7.8" lengthAdjust="spacingAndGlyphs" stroke="#222" stroke-width="0.12">low</text>
<text x="162.4" y="415.6" font-size="9" font-weight="400" fill="#c99ca6" text-anchor="start" textLength="10.2" lengthAdjust="spacingAndGlyphs" stroke="#c99ca6" stroke-width="0.12">high</text>
<text x="179.8" y="407.4" font-size="9" font-weight="400" fill="#222" text-anchor="middle" textLength="6.4" lengthAdjust="spacingAndGlyphs" stroke="#222" stroke-width="0.12">88</text>
<text x="179.8" y="415.6" font-size="9" font-weight="400" fill="#c99ca6" text-anchor="middle" textLength="6.4" lengthAdjust="spacingAndGlyphs" stroke="#c99ca6" stroke-width="0.12">89</text>
<text x="211.4" y="407.4" font-size="9" font-weight="400" fill="#222" text-anchor="middle" textLength="6.4" lengthAdjust="spacingAndGlyphs" stroke="#222" stroke-width="0.12">32</text>
<text x="211.4" y="415.6" font-size="9" font-weight="400" fill="#c99ca6" text-anchor="middle" textLength="6.4" lengthAdjust="spacingAndGlyphs" stroke="#c99ca6" stroke-width="0.12">26</text>
<text x="245.0" y="407.4" font-size="9" font-weight="400" fill="#222" text-anchor="middle" textLength="6.4" lengthAdjust="spacingAndGlyphs" stroke="#222" stroke-width="0.12">11</text>
<text x="245.0" y="415.6" font-size="9" font-weight="400" fill="#c99ca6" text-anchor="middle" textLength="3.2" lengthAdjust="spacingAndGlyphs" stroke="#c99ca6" stroke-width="0.12">6</text>
<text x="278.6" y="407.4" font-size="9" font-weight="400" fill="#222" text-anchor="middle" textLength="3.2" lengthAdjust="spacingAndGlyphs" stroke="#222" stroke-width="0.12">5</text>
<text x="278.6" y="415.6" font-size="9" font-weight="400" fill="#c99ca6" text-anchor="middle" textLength="3.2" lengthAdjust="spacingAndGlyphs" stroke="#c99ca6" stroke-width="0.12">3</text>
<polyline points="177.4,240.4 179.1,240.4 179.1,242.6 180.8,242.6 180.8,244.8 182.4,244.8 182.4,247.0 184.1,247.0 184.1,249.2 185.8,249.2 185.8,251.4 187.5,251.4 187.5,253.6 189.1,253.6 189.1,255.2 190.6,255.2 190.6,256.7 192.2,256.7 192.2,258.3 193.8,258.3 193.8,264.5 195.3,264.5 195.3,270.7 196.8,270.7 196.8,273.0 198.4,273.0 198.4,275.3 199.9,275.3 199.9,277.6 201.9,277.6 201.9,283.5 203.8,283.5 203.8,289.3 205.6,289.3 205.6,291.9 207.4,291.9 207.4,294.4 209.2,294.4 209.2,297.0 211.0,297.0 211.0,301.1 212.8,301.1 212.8,305.3 214.6,305.3 214.6,309.4 216.0,309.4 216.0,312.3 217.5,312.3 217.5,315.1 218.9,315.1 218.9,318.0 219.5,318.0 219.5,322.1 235.9,322.1 235.9,322.1 237.3,322.1" fill="none" stroke="#d4436a" stroke-width="1.3" stroke-linejoin="miter"/>
<polyline points="237.3,322.1 237.3,326.8 241.4,326.8 241.4,326.8 241.7,326.8 241.7,333.7 261.8,333.7 261.8,333.7 262.5,333.7 262.5,340.5 278.9,340.5 278.9,340.5" fill="none" stroke="#bb8088" stroke-width="1.3" stroke-linejoin="miter"/>
<polyline points="177.4,240.4 182.1,240.4 182.1,240.4 184.4,240.4 184.4,243.5 185.9,243.5 185.9,248.9 187.5,248.9 187.5,254.4 189.1,254.4 189.1,254.8 190.6,254.8 190.6,255.2 192.1,255.2 192.1,258.3 193.7,258.3 193.7,261.4 195.6,261.4 195.6,263.7 197.6,263.7 197.6,266.0 199.9,266.0 199.9,272.2 203.8,272.2 203.8,272.2 205.3,272.2 205.3,282.3 206.9,282.3 206.9,290.8 208.4,290.8 208.4,291.2 210.0,291.2 210.0,291.6 211.4,291.6 211.4,298.2 212.3,298.2 212.3,303.2 213.9,303.2 213.9,307.1 215.4,307.1 215.4,311.0 217.5,311.0 217.5,316.0 229.1,316.0 229.1,316.0 230.5,316.0 230.5,318.6 252.3,318.6 252.3,318.6 253.0,318.6 253.0,325.2 278.9,325.2 278.9,325.2" fill="none" stroke="#111" stroke-width="1.4" stroke-linejoin="miter"/>
<line x1="225.0" y1="314.4" x2="225.0" y2="317.6" stroke="#111" stroke-width="1.1"/>
<line x1="232.5" y1="317.0" x2="232.5" y2="320.2" stroke="#111" stroke-width="1.1"/>
<line x1="233.9" y1="317.0" x2="233.9" y2="320.2" stroke="#111" stroke-width="1.1"/>
<line x1="235.9" y1="317.0" x2="235.9" y2="320.2" stroke="#111" stroke-width="1.1"/>
<line x1="240.0" y1="317.0" x2="240.0" y2="320.2" stroke="#111" stroke-width="1.1"/>
<line x1="246.2" y1="317.0" x2="246.2" y2="320.2" stroke="#111" stroke-width="1.1"/>
<line x1="248.9" y1="317.0" x2="248.9" y2="320.2" stroke="#111" stroke-width="1.1"/>
<line x1="250.2" y1="317.0" x2="250.2" y2="320.2" stroke="#111" stroke-width="1.1"/>
<line x1="255.0" y1="323.6" x2="255.0" y2="326.8" stroke="#111" stroke-width="1.1"/>
<line x1="264.6" y1="323.6" x2="264.6" y2="326.8" stroke="#111" stroke-width="1.1"/>
<line x1="278.9" y1="323.6" x2="278.9" y2="326.8" stroke="#111" stroke-width="1.1"/>
<line x1="230.5" y1="320.5" x2="230.5" y2="323.7" stroke="#d4436a" stroke-width="1.1"/>
<line x1="235.9" y1="320.5" x2="235.9" y2="323.7" stroke="#d4436a" stroke-width="1.1"/>
<line x1="249.6" y1="332.1" x2="249.6" y2="335.3" stroke="#d4436a" stroke-width="1.1"/>
<line x1="278.9" y1="338.9" x2="278.9" y2="342.1" stroke="#d4436a" stroke-width="1.1"/>
<line x1="190.0" y1="254.4" x2="190.0" y2="257.6" stroke="#111" stroke-width="1.1"/>
<line x1="197.0" y1="263.4" x2="197.0" y2="266.6" stroke="#111" stroke-width="1.1"/>
<line x1="203.0" y1="270.6" x2="203.0" y2="273.8" stroke="#111" stroke-width="1.1"/>
<line x1="206.0" y1="288.4" x2="206.0" y2="291.6" stroke="#111" stroke-width="1.1"/>
<line x1="192.0" y1="256.4" x2="192.0" y2="259.6" stroke="#d4436a" stroke-width="1.1"/>
<line x1="199.0" y1="275.4" x2="199.0" y2="278.6" stroke="#d4436a" stroke-width="1.1"/>
<line x1="204.0" y1="287.4" x2="204.0" y2="290.6" stroke="#d4436a" stroke-width="1.1"/>
<line x1="214.0" y1="307.4" x2="214.0" y2="310.6" stroke="#d4436a" stroke-width="1.1"/>
<rect x="303.6" y="235.0" width="109.4" height="138.5" fill="none" stroke="#222" stroke-width="1.4"/>
<line x1="300.8" y1="368.5" x2="303.6" y2="368.5" stroke="#222" stroke-width="1.1"/>
<text transform="translate(300.7,368.2) rotate(-90)" x="0" y="0" font-size="8" font-weight="400" fill="#333" text-anchor="middle" textLength="12.8" lengthAdjust="spacingAndGlyphs" stroke="#333" stroke-width="0.12">0.0</text>
<line x1="300.8" y1="342.8" x2="303.6" y2="342.8" stroke="#222" stroke-width="1.1"/>
<text transform="translate(300.7,342.5) rotate(-90)" x="0" y="0" font-size="8" font-weight="400" fill="#333" text-anchor="middle" textLength="12.8" lengthAdjust="spacingAndGlyphs" stroke="#333" stroke-width="0.12">0.2</text>
<line x1="300.8" y1="317.2" x2="303.6" y2="317.2" stroke="#222" stroke-width="1.1"/>
<text transform="translate(300.7,316.9) rotate(-90)" x="0" y="0" font-size="8" font-weight="400" fill="#333" text-anchor="middle" textLength="12.8" lengthAdjust="spacingAndGlyphs" stroke="#333" stroke-width="0.12">0.4</text>
<line x1="300.8" y1="291.5" x2="303.6" y2="291.5" stroke="#222" stroke-width="1.1"/>
<text transform="translate(300.7,291.2) rotate(-90)" x="0" y="0" font-size="8" font-weight="400" fill="#333" text-anchor="middle" textLength="12.8" lengthAdjust="spacingAndGlyphs" stroke="#333" stroke-width="0.12">0.6</text>
<line x1="300.8" y1="265.9" x2="303.6" y2="265.9" stroke="#222" stroke-width="1.1"/>
<text transform="translate(300.7,265.6) rotate(-90)" x="0" y="0" font-size="8" font-weight="400" fill="#333" text-anchor="middle" textLength="12.8" lengthAdjust="spacingAndGlyphs" stroke="#333" stroke-width="0.12">0.8</text>
<line x1="300.8" y1="240.2" x2="303.6" y2="240.2" stroke="#222" stroke-width="1.1"/>
<text transform="translate(300.7,239.9) rotate(-90)" x="0" y="0" font-size="8" font-weight="400" fill="#333" text-anchor="middle" textLength="12.8" lengthAdjust="spacingAndGlyphs" stroke="#333" stroke-width="0.12">1.0</text>
<text transform="translate(291.4,305.1) rotate(-90)" x="0" y="0" font-size="9" font-weight="400" fill="#222" text-anchor="middle" textLength="55.0" lengthAdjust="spacingAndGlyphs" stroke="#222" stroke-width="0.12">Probability</text>
<line x1="307.4" y1="373.5" x2="307.4" y2="376.5" stroke="#222" stroke-width="1.1"/>
<text x="307.4" y="384.7" font-size="7.2" font-weight="400" fill="#333" text-anchor="middle" textLength="3.4" lengthAdjust="spacingAndGlyphs" stroke="#333" stroke-width="0.12">0</text>
<line x1="341.4" y1="373.5" x2="341.4" y2="376.5" stroke="#222" stroke-width="1.1"/>
<text x="341.4" y="384.7" font-size="7.2" font-weight="400" fill="#333" text-anchor="middle" textLength="5.6" lengthAdjust="spacingAndGlyphs" stroke="#333" stroke-width="0.12">20</text>
<line x1="375.4" y1="373.5" x2="375.4" y2="376.5" stroke="#222" stroke-width="1.1"/>
<text x="375.4" y="384.7" font-size="7.2" font-weight="400" fill="#333" text-anchor="middle" textLength="5.6" lengthAdjust="spacingAndGlyphs" stroke="#333" stroke-width="0.12">40</text>
<line x1="409.4" y1="373.5" x2="409.4" y2="376.5" stroke="#222" stroke-width="1.1"/>
<text x="409.4" y="384.7" font-size="7.2" font-weight="400" fill="#333" text-anchor="middle" textLength="5.6" lengthAdjust="spacingAndGlyphs" stroke="#333" stroke-width="0.12">60</text>
<text x="348.6" y="231.6" font-size="9" font-weight="400" fill="#111" text-anchor="start" textLength="21.4" lengthAdjust="spacingAndGlyphs" stroke="#111" stroke-width="0.12">TERT</text>
<text x="409.5" y="245.8" font-size="8.2" font-weight="400" fill="#222" text-anchor="end" textLength="57.6" lengthAdjust="spacingAndGlyphs" stroke="#222" stroke-width="0.12">HR = 1.16 (0.76 − 1.75)</text>
<text x="409.5" y="256.0" font-size="8.2" font-weight="400" fill="#222" text-anchor="end" textLength="39.5" lengthAdjust="spacingAndGlyphs" stroke="#222" stroke-width="0.12">logrank P = 0.49</text>
<text x="306.2" y="347.5" font-size="8.6" font-weight="400" fill="#222" text-anchor="start" textLength="27.3" lengthAdjust="spacingAndGlyphs" stroke="#222" stroke-width="0.12">Expression</text>
<line x1="307.8" y1="356.3" x2="317.8" y2="356.3" stroke="#111" stroke-width="1.6"/>
<text x="321.9" y="358.3" font-size="8" font-weight="400" fill="#222" text-anchor="start" textLength="8.2" lengthAdjust="spacingAndGlyphs" stroke="#222" stroke-width="0.12">low</text>
<line x1="307.8" y1="365.5" x2="317.8" y2="365.5" stroke="#c8acac" stroke-width="1.3"/>
<text x="321.9" y="367.9" font-size="8" font-weight="400" fill="#333" text-anchor="start" textLength="10.4" lengthAdjust="spacingAndGlyphs" stroke="#333" stroke-width="0.12">high</text>
<text x="292.3" y="398.9" font-size="9" font-weight="400" fill="#222" text-anchor="start" textLength="35.7" lengthAdjust="spacingAndGlyphs" stroke="#222" stroke-width="0.12">Number at risk</text>
<text x="343.0" y="396.9" font-size="9" font-weight="400" fill="#222" text-anchor="start" textLength="35.0" lengthAdjust="spacingAndGlyphs" stroke="#222" stroke-width="0.12">Time (months)</text>
<text x="293.3" y="409.2" font-size="9" font-weight="400" fill="#222" text-anchor="start" textLength="7.8" lengthAdjust="spacingAndGlyphs" stroke="#222" stroke-width="0.12">low</text>
<text x="291.5" y="419.2" font-size="9" font-weight="400" fill="#c99ca6" text-anchor="start" textLength="10.2" lengthAdjust="spacingAndGlyphs" stroke="#c99ca6" stroke-width="0.12">high</text>
<text x="309.4" y="409.2" font-size="9" font-weight="400" fill="#222" text-anchor="middle" textLength="6.4" lengthAdjust="spacingAndGlyphs" stroke="#222" stroke-width="0.12">98</text>
<text x="309.4" y="419.2" font-size="9" font-weight="400" fill="#c99ca6" text-anchor="middle" textLength="6.4" lengthAdjust="spacingAndGlyphs" stroke="#c99ca6" stroke-width="0.12">79</text>
<text x="341.4" y="409.2" font-size="9" font-weight="400" fill="#222" text-anchor="middle" textLength="6.4" lengthAdjust="spacingAndGlyphs" stroke="#222" stroke-width="0.12">36</text>
<text x="341.4" y="419.2" font-size="9" font-weight="400" fill="#c99ca6" text-anchor="middle" textLength="6.4" lengthAdjust="spacingAndGlyphs" stroke="#c99ca6" stroke-width="0.12">22</text>
<text x="375.4" y="409.2" font-size="9" font-weight="400" fill="#222" text-anchor="middle" textLength="6.4" lengthAdjust="spacingAndGlyphs" stroke="#222" stroke-width="0.12">10</text>
<text x="375.4" y="419.2" font-size="9" font-weight="400" fill="#c99ca6" text-anchor="middle" textLength="3.2" lengthAdjust="spacingAndGlyphs" stroke="#c99ca6" stroke-width="0.12">7</text>
<text x="409.4" y="409.2" font-size="9" font-weight="400" fill="#222" text-anchor="middle" textLength="3.2" lengthAdjust="spacingAndGlyphs" stroke="#222" stroke-width="0.12">5</text>
<text x="409.4" y="419.2" font-size="9" font-weight="400" fill="#c99ca6" text-anchor="middle" textLength="3.2" lengthAdjust="spacingAndGlyphs" stroke="#c99ca6" stroke-width="0.12">3</text>
<polyline points="307.4,239.7 309.1,239.7 309.1,241.2 310.9,241.2 310.9,242.8 312.6,242.8 312.6,244.3 314.4,244.3 314.4,245.9 315.9,245.9 315.9,250.6 317.5,250.6 317.5,255.2 319.1,255.2 319.1,257.8 320.6,257.8 320.6,260.3 322.2,260.3 322.2,262.9 323.7,262.9 323.7,267.0 325.3,267.0 325.3,271.2 326.8,271.2 326.8,275.3 328.4,275.3 328.4,279.6 329.9,279.6 329.9,283.8 332.2,283.8 332.2,287.7 333.8,287.7 333.8,290.5 335.3,290.5 335.3,293.4 336.9,293.4 336.9,296.2 338.4,296.2 338.4,298.5 340.0,298.5 340.0,300.9 341.5,300.9 341.5,303.2 343.0,303.2 343.0,306.1 344.6,306.1 344.6,308.9 346.1,308.9 346.1,311.8 347.5,311.8 347.5,322.7 348.9,322.7 348.9,326.8 371.4,326.8 371.4,326.8 372.1,326.8" fill="none" stroke="#d4436a" stroke-width="1.3" stroke-linejoin="miter"/>
<polyline points="372.1,326.8 372.1,332.3 392.5,332.3 392.5,332.3 393.2,332.3 393.2,333.7 409.6,333.7 409.6,333.7" fill="none" stroke="#bb8088" stroke-width="1.3" stroke-linejoin="miter"/>
<polyline points="307.4,239.7 308.9,239.7 308.9,240.6 310.5,240.6 310.5,241.6 312.1,241.6 312.1,242.6 313.6,242.6 313.6,243.5 315.1,243.5 315.1,247.0 316.7,247.0 316.7,250.5 318.6,250.5 318.6,252.8 320.6,252.8 320.6,255.2 322.6,255.2 322.6,257.5 324.5,257.5 324.5,259.8 326.1,259.8 326.1,263.7 327.6,263.7 327.6,267.6 329.6,267.6 329.6,270.3 331.5,270.3 331.5,273.0 333.1,273.0 333.1,276.1 334.6,276.1 334.6,279.2 336.1,279.2 336.1,288.5 337.7,288.5 337.7,290.6 339.2,290.6 339.2,292.6 340.8,292.6 340.8,294.7 343.1,294.7 343.1,306.3 345.5,306.3 345.5,311.8 347.1,311.8 347.1,312.6 348.6,312.6 348.6,313.5 350.2,313.5 350.2,314.3 359.1,314.3 359.1,314.3 359.8,314.3 359.8,316.6 366.6,316.6 366.6,316.6 368.0,316.6 368.0,320.7 382.3,320.7 382.3,320.7 383.7,320.7 383.7,326.6 392.5,326.6 392.5,326.6 392.9,326.6 392.9,333.7 409.6,333.7 409.6,333.7" fill="none" stroke="#111" stroke-width="1.4" stroke-linejoin="miter"/>
<line x1="350.2" y1="312.7" x2="350.2" y2="315.9" stroke="#111" stroke-width="1.1"/>
<line x1="360.5" y1="315.0" x2="360.5" y2="318.2" stroke="#111" stroke-width="1.1"/>
<line x1="362.5" y1="315.0" x2="362.5" y2="318.2" stroke="#111" stroke-width="1.1"/>
<line x1="364.6" y1="315.0" x2="364.6" y2="318.2" stroke="#111" stroke-width="1.1"/>
<line x1="370.0" y1="319.1" x2="370.0" y2="322.3" stroke="#111" stroke-width="1.1"/>
<line x1="378.2" y1="319.1" x2="378.2" y2="322.3" stroke="#111" stroke-width="1.1"/>
<line x1="379.6" y1="319.1" x2="379.6" y2="322.3" stroke="#111" stroke-width="1.1"/>
<line x1="385.7" y1="325.0" x2="385.7" y2="328.2" stroke="#111" stroke-width="1.1"/>
<line x1="409.6" y1="332.1" x2="409.6" y2="335.3" stroke="#111" stroke-width="1.1"/>
<line x1="317.0" y1="248.9" x2="317.0" y2="252.1" stroke="#111" stroke-width="1.1"/>
<line x1="324.5" y1="258.2" x2="324.5" y2="261.4" stroke="#111" stroke-width="1.1"/>
<line x1="331.5" y1="271.4" x2="331.5" y2="274.6" stroke="#111" stroke-width="1.1"/>
<line x1="334.6" y1="277.4" x2="334.6" y2="280.6" stroke="#111" stroke-width="1.1"/>
<line x1="340.8" y1="293.1" x2="340.8" y2="296.3" stroke="#111" stroke-width="1.1"/>
<line x1="355.0" y1="325.2" x2="355.0" y2="328.4" stroke="#d4436a" stroke-width="1.1"/>
<line x1="362.5" y1="325.2" x2="362.5" y2="328.4" stroke="#d4436a" stroke-width="1.1"/>
<line x1="376.2" y1="330.7" x2="376.2" y2="333.9" stroke="#d4436a" stroke-width="1.1"/>
<line x1="382.3" y1="330.7" x2="382.3" y2="333.9" stroke="#d4436a" stroke-width="1.1"/>
<line x1="395.0" y1="332.1" x2="395.0" y2="335.3" stroke="#d4436a" stroke-width="1.1"/>
<line x1="400.0" y1="332.1" x2="400.0" y2="335.3" stroke="#d4436a" stroke-width="1.1"/>
<line x1="405.0" y1="332.1" x2="405.0" y2="335.3" stroke="#d4436a" stroke-width="1.1"/>
<line x1="409.6" y1="332.1" x2="409.6" y2="335.3" stroke="#d4436a" stroke-width="1.1"/>
<line x1="314.0" y1="244.3" x2="314.0" y2="247.5" stroke="#d4436a" stroke-width="1.1"/>
<line x1="326.8" y1="273.7" x2="326.8" y2="276.9" stroke="#d4436a" stroke-width="1.1"/>
<line x1="329.9" y1="282.2" x2="329.9" y2="285.4" stroke="#d4436a" stroke-width="1.1"/>
<line x1="332.0" y1="286.1" x2="332.0" y2="289.3" stroke="#d4436a" stroke-width="1.1"/>
<rect x="435.0" y="234.5" width="109.4" height="139.0" fill="none" stroke="#222" stroke-width="1.4"/>
<line x1="432.2" y1="368.3" x2="435.0" y2="368.3" stroke="#222" stroke-width="1.1"/>
<text transform="translate(432.1,368.0) rotate(-90)" x="0" y="0" font-size="8" font-weight="400" fill="#333" text-anchor="middle" textLength="12.8" lengthAdjust="spacingAndGlyphs" stroke="#333" stroke-width="0.12">0.0</text>
<line x1="432.2" y1="342.6" x2="435.0" y2="342.6" stroke="#222" stroke-width="1.1"/>
<text transform="translate(432.1,342.3) rotate(-90)" x="0" y="0" font-size="8" font-weight="400" fill="#333" text-anchor="middle" textLength="12.8" lengthAdjust="spacingAndGlyphs" stroke="#333" stroke-width="0.12">0.2</text>
<line x1="432.2" y1="317.0" x2="435.0" y2="317.0" stroke="#222" stroke-width="1.1"/>
<text transform="translate(432.1,316.7) rotate(-90)" x="0" y="0" font-size="8" font-weight="400" fill="#333" text-anchor="middle" textLength="12.8" lengthAdjust="spacingAndGlyphs" stroke="#333" stroke-width="0.12">0.4</text>
<line x1="432.2" y1="291.3" x2="435.0" y2="291.3" stroke="#222" stroke-width="1.1"/>
<text transform="translate(432.1,291.0) rotate(-90)" x="0" y="0" font-size="8" font-weight="400" fill="#333" text-anchor="middle" textLength="12.8" lengthAdjust="spacingAndGlyphs" stroke="#333" stroke-width="0.12">0.6</text>
<line x1="432.2" y1="265.7" x2="435.0" y2="265.7" stroke="#222" stroke-width="1.1"/>
<text transform="translate(432.1,265.4) rotate(-90)" x="0" y="0" font-size="8" font-weight="400" fill="#333" text-anchor="middle" textLength="12.8" lengthAdjust="spacingAndGlyphs" stroke="#333" stroke-width="0.12">0.8</text>
<line x1="432.2" y1="240.0" x2="435.0" y2="240.0" stroke="#222" stroke-width="1.1"/>
<text transform="translate(432.1,239.7) rotate(-90)" x="0" y="0" font-size="8" font-weight="400" fill="#333" text-anchor="middle" textLength="12.8" lengthAdjust="spacingAndGlyphs" stroke="#333" stroke-width="0.12">1.0</text>
<text transform="translate(422.8,304.8) rotate(-90)" x="0" y="0" font-size="9" font-weight="400" fill="#222" text-anchor="middle" textLength="55.0" lengthAdjust="spacingAndGlyphs" stroke="#222" stroke-width="0.12">Probability</text>
<line x1="439.5" y1="373.5" x2="439.5" y2="376.5" stroke="#222" stroke-width="1.1"/>
<text x="439.5" y="384.7" font-size="7.2" font-weight="400" fill="#333" text-anchor="middle" textLength="3.4" lengthAdjust="spacingAndGlyphs" stroke="#333" stroke-width="0.12">0</text>
<line x1="467.0" y1="373.5" x2="467.0" y2="376.5" stroke="#222" stroke-width="1.1"/>
<text x="467.0" y="384.7" font-size="7.2" font-weight="400" fill="#333" text-anchor="middle" textLength="5.6" lengthAdjust="spacingAndGlyphs" stroke="#333" stroke-width="0.12">20</text>
<line x1="494.5" y1="373.5" x2="494.5" y2="376.5" stroke="#222" stroke-width="1.1"/>
<text x="494.5" y="384.7" font-size="7.2" font-weight="400" fill="#333" text-anchor="middle" textLength="5.6" lengthAdjust="spacingAndGlyphs" stroke="#333" stroke-width="0.12">40</text>
<line x1="522.0" y1="373.5" x2="522.0" y2="376.5" stroke="#222" stroke-width="1.1"/>
<text x="522.0" y="384.7" font-size="7.2" font-weight="400" fill="#333" text-anchor="middle" textLength="5.6" lengthAdjust="spacingAndGlyphs" stroke="#333" stroke-width="0.12">60</text>
<text x="453.6" y="231.0" font-size="9" font-weight="400" fill="#111" text-anchor="start" textLength="71.4" lengthAdjust="spacingAndGlyphs" stroke="#111" stroke-width="0.12">SOX2 OCT4 TERT</text>
<text x="540.9" y="245.3" font-size="8.2" font-weight="400" fill="#222" text-anchor="end" textLength="57.0" lengthAdjust="spacingAndGlyphs" stroke="#222" stroke-width="0.12">HR = 1.92 (1.06 − 3.48)</text>
<text x="540.9" y="255.5" font-size="8.2" font-weight="400" fill="#222" text-anchor="end" textLength="44.0" lengthAdjust="spacingAndGlyphs" stroke="#222" stroke-width="0.12">logrank P = 0.029</text>
<text x="437.6" y="347.5" font-size="8.6" font-weight="400" fill="#222" text-anchor="start" textLength="27.3" lengthAdjust="spacingAndGlyphs" stroke="#222" stroke-width="0.12">Expression</text>
<line x1="439.2" y1="356.3" x2="449.2" y2="356.3" stroke="#111" stroke-width="1.6"/>
<text x="453.3" y="358.3" font-size="8" font-weight="400" fill="#222" text-anchor="start" textLength="8.2" lengthAdjust="spacingAndGlyphs" stroke="#222" stroke-width="0.12">low</text>
<line x1="439.2" y1="365.5" x2="449.2" y2="365.5" stroke="#c8acac" stroke-width="1.3"/>
<text x="453.3" y="367.9" font-size="8" font-weight="400" fill="#333" text-anchor="start" textLength="10.4" lengthAdjust="spacingAndGlyphs" stroke="#333" stroke-width="0.12">high</text>
<text x="423.0" y="401.7" font-size="9" font-weight="400" fill="#222" text-anchor="start" textLength="35.7" lengthAdjust="spacingAndGlyphs" stroke="#222" stroke-width="0.12">Number at risk</text>
<text x="474.4" y="394.5" font-size="9" font-weight="400" fill="#222" text-anchor="start" textLength="35.0" lengthAdjust="spacingAndGlyphs" stroke="#222" stroke-width="0.12">Time (months)</text>
<text x="424.0" y="410.1" font-size="9" font-weight="400" fill="#222" text-anchor="start" textLength="7.8" lengthAdjust="spacingAndGlyphs" stroke="#222" stroke-width="0.12">low</text>
<text x="422.2" y="419.6" font-size="9" font-weight="400" fill="#c99ca6" text-anchor="start" textLength="10.2" lengthAdjust="spacingAndGlyphs" stroke="#c99ca6" stroke-width="0.12">high</text>
<text x="440.5" y="410.1" font-size="9" font-weight="400" fill="#222" text-anchor="middle" textLength="6.4" lengthAdjust="spacingAndGlyphs" stroke="#222" stroke-width="0.12">40</text>
<text x="440.5" y="419.6" font-size="9" font-weight="400" fill="#c99ca6" text-anchor="middle" textLength="6.4" lengthAdjust="spacingAndGlyphs" stroke="#c99ca6" stroke-width="0.12">44</text>
<text x="467.0" y="410.1" font-size="9" font-weight="400" fill="#222" text-anchor="middle" textLength="6.4" lengthAdjust="spacingAndGlyphs" stroke="#222" stroke-width="0.12">16</text>
<text x="467.0" y="419.6" font-size="9" font-weight="400" fill="#c99ca6" text-anchor="middle" textLength="6.4" lengthAdjust="spacingAndGlyphs" stroke="#c99ca6" stroke-width="0.12">10</text>
<text x="494.5" y="410.1" font-size="9" font-weight="400" fill="#222" text-anchor="middle" textLength="3.2" lengthAdjust="spacingAndGlyphs" stroke="#222" stroke-width="0.12">5</text>
<text x="494.5" y="419.6" font-size="9" font-weight="400" fill="#c99ca6" text-anchor="middle" textLength="3.2" lengthAdjust="spacingAndGlyphs" stroke="#c99ca6" stroke-width="0.12">3</text>
<text x="522.0" y="410.1" font-size="9" font-weight="400" fill="#222" text-anchor="middle" textLength="3.2" lengthAdjust="spacingAndGlyphs" stroke="#222" stroke-width="0.12">1</text>
<text x="522.0" y="419.6" font-size="9" font-weight="400" fill="#c99ca6" text-anchor="middle" textLength="3.2" lengthAdjust="spacingAndGlyphs" stroke="#c99ca6" stroke-width="0.12">2</text>
<polyline points="439.4,239.7 441.4,239.7 441.4,244.3 443.3,244.3 443.3,249.0 444.9,249.0 444.9,250.6 446.4,250.6 446.4,252.1 447.9,252.1 447.9,253.6 449.5,253.6 449.5,255.2 451.1,255.2 451.1,266.0 452.6,266.0 452.6,272.2 454.1,272.2 454.1,279.2 455.7,279.2 455.7,286.2 457.2,286.2 457.2,291.6 458.8,291.6 458.8,297.0 461.1,297.0 461.1,306.3 463.5,306.3 463.5,315.6 464.2,315.6 464.2,320.3 469.8,320.3 469.8,320.3 471.1,320.3" fill="none" stroke="#d4436a" stroke-width="1.3" stroke-linejoin="miter"/>
<polyline points="471.1,320.3 471.1,325.6 472.3,325.6 472.3,330.9 473.1,330.9 473.1,336.6 491.1,336.6 491.1,336.6 491.4,336.6 491.4,344.3 532.8,344.3 532.8,344.3 533.3,344.3 533.3,368.6" fill="none" stroke="#bb8088" stroke-width="1.3" stroke-linejoin="miter"/>
<polyline points="439.4,239.7 443.3,239.7 443.3,239.7 444.9,239.7 444.9,245.9 447.2,245.9 447.2,249.7 449.5,249.7 449.5,249.7 451.1,249.7 451.1,251.6 452.6,251.6 452.6,253.6 454.2,253.6 454.2,259.8 457.3,259.8 457.3,259.8 458.8,259.8 458.8,264.5 461.1,264.5 461.1,269.1 462.7,269.1 462.7,276.9 465.0,276.9 465.0,281.5 466.6,281.5 466.6,286.2 467.4,286.2 467.4,297.4 469.0,297.4 469.0,304.7 500.1,304.7 500.1,304.7 500.9,304.7 500.9,325.2 508.3,325.2 508.3,325.2 508.8,325.2 508.8,347.3 540.2,347.3 540.2,347.3 540.5,347.3 540.5,368.6" fill="none" stroke="#111" stroke-width="1.4" stroke-linejoin="miter"/>
<line x1="469.8" y1="303.1" x2="469.8" y2="306.3" stroke="#111" stroke-width="1.1"/>
<line x1="483.7" y1="303.1" x2="483.7" y2="306.3" stroke="#111" stroke-width="1.1"/>
<line x1="490.3" y1="303.1" x2="490.3" y2="306.3" stroke="#111" stroke-width="1.1"/>
<line x1="495.2" y1="303.1" x2="495.2" y2="306.3" stroke="#111" stroke-width="1.1"/>
<line x1="496.8" y1="303.1" x2="496.8" y2="306.3" stroke="#111" stroke-width="1.1"/>
<line x1="498.5" y1="303.1" x2="498.5" y2="306.3" stroke="#111" stroke-width="1.1"/>
<line x1="444.9" y1="244.3" x2="444.9" y2="247.5" stroke="#111" stroke-width="1.1"/>
<line x1="452.0" y1="251.4" x2="452.0" y2="254.6" stroke="#111" stroke-width="1.1"/>
<line x1="457.3" y1="258.2" x2="457.3" y2="261.4" stroke="#111" stroke-width="1.1"/>
<line x1="461.0" y1="267.4" x2="461.0" y2="270.6" stroke="#111" stroke-width="1.1"/>
<line x1="486.2" y1="335.0" x2="486.2" y2="338.2" stroke="#d4436a" stroke-width="1.1"/>
<line x1="498.5" y1="342.7" x2="498.5" y2="345.9" stroke="#d4436a" stroke-width="1.1"/>
<line x1="532.8" y1="342.7" x2="532.8" y2="345.9" stroke="#d4436a" stroke-width="1.1"/>
<line x1="449.5" y1="253.4" x2="449.5" y2="256.6" stroke="#d4436a" stroke-width="1.1"/>
<line x1="455.7" y1="284.4" x2="455.7" y2="287.6" stroke="#d4436a" stroke-width="1.1"/>
<line x1="461.0" y1="304.4" x2="461.0" y2="307.6" stroke="#d4436a" stroke-width="1.1"/>
<line x1="469.8" y1="318.7" x2="469.8" y2="321.9" stroke="#d4436a" stroke-width="1.1"/>
<rect x="42.0" y="456.6" width="109.3" height="138.4" fill="none" stroke="#222" stroke-width="1.4"/>
<line x1="39.2" y1="589.8" x2="42.0" y2="589.8" stroke="#222" stroke-width="1.1"/>
<text transform="translate(39.1,589.5) rotate(-90)" x="0" y="0" font-size="8" font-weight="400" fill="#333" text-anchor="middle" textLength="12.8" lengthAdjust="spacingAndGlyphs" stroke="#333" stroke-width="0.12">0.0</text>
<line x1="39.2" y1="564.2" x2="42.0" y2="564.2" stroke="#222" stroke-width="1.1"/>
<text transform="translate(39.1,563.9) rotate(-90)" x="0" y="0" font-size="8" font-weight="400" fill="#333" text-anchor="middle" textLength="12.8" lengthAdjust="spacingAndGlyphs" stroke="#333" stroke-width="0.12">0.2</text>
<line x1="39.2" y1="538.6" x2="42.0" y2="538.6" stroke="#222" stroke-width="1.1"/>
<text transform="translate(39.1,538.3) rotate(-90)" x="0" y="0" font-size="8" font-weight="400" fill="#333" text-anchor="middle" textLength="12.8" lengthAdjust="spacingAndGlyphs" stroke="#333" stroke-width="0.12">0.4</text>
<line x1="39.2" y1="513.0" x2="42.0" y2="513.0" stroke="#222" stroke-width="1.1"/>
<text transform="translate(39.1,512.7) rotate(-90)" x="0" y="0" font-size="8" font-weight="400" fill="#333" text-anchor="middle" textLength="12.8" lengthAdjust="spacingAndGlyphs" stroke="#333" stroke-width="0.12">0.6</text>
<line x1="39.2" y1="487.4" x2="42.0" y2="487.4" stroke="#222" stroke-width="1.1"/>
<text transform="translate(39.1,487.1) rotate(-90)" x="0" y="0" font-size="8" font-weight="400" fill="#333" text-anchor="middle" textLength="12.8" lengthAdjust="spacingAndGlyphs" stroke="#333" stroke-width="0.12">0.8</text>
<line x1="39.2" y1="461.8" x2="42.0" y2="461.8" stroke="#222" stroke-width="1.1"/>
<text transform="translate(39.1,461.5) rotate(-90)" x="0" y="0" font-size="8" font-weight="400" fill="#333" text-anchor="middle" textLength="12.8" lengthAdjust="spacingAndGlyphs" stroke="#333" stroke-width="0.12">1.0</text>
<text transform="translate(29.8,526.6) rotate(-90)" x="0" y="0" font-size="9" font-weight="400" fill="#222" text-anchor="middle" textLength="55.0" lengthAdjust="spacingAndGlyphs" stroke="#222" stroke-width="0.12">Probability</text>
<line x1="46.0" y1="595.0" x2="46.0" y2="598.0" stroke="#222" stroke-width="1.1"/>
<text x="46.0" y="606.2" font-size="7.2" font-weight="400" fill="#333" text-anchor="middle" textLength="3.4" lengthAdjust="spacingAndGlyphs" stroke="#333" stroke-width="0.12">0</text>
<line x1="80.0" y1="595.0" x2="80.0" y2="598.0" stroke="#222" stroke-width="1.1"/>
<text x="80.0" y="606.2" font-size="7.2" font-weight="400" fill="#333" text-anchor="middle" textLength="5.6" lengthAdjust="spacingAndGlyphs" stroke="#333" stroke-width="0.12">20</text>
<line x1="114.0" y1="595.0" x2="114.0" y2="598.0" stroke="#222" stroke-width="1.1"/>
<text x="114.0" y="606.2" font-size="7.2" font-weight="400" fill="#333" text-anchor="middle" textLength="5.6" lengthAdjust="spacingAndGlyphs" stroke="#333" stroke-width="0.12">40</text>
<line x1="148.0" y1="595.0" x2="148.0" y2="598.0" stroke="#222" stroke-width="1.1"/>
<text x="148.0" y="606.2" font-size="7.2" font-weight="400" fill="#333" text-anchor="middle" textLength="5.6" lengthAdjust="spacingAndGlyphs" stroke="#333" stroke-width="0.12">60</text>
<text x="84.1" y="451.8" font-size="9" font-weight="400" fill="#111" text-anchor="start" textLength="22.3" lengthAdjust="spacingAndGlyphs" stroke="#111" stroke-width="0.12">SOX2</text>
<text x="147.8" y="467.4" font-size="8.2" font-weight="400" fill="#222" text-anchor="end" textLength="58.0" lengthAdjust="spacingAndGlyphs" stroke="#222" stroke-width="0.12">HR = 0.71 (0.31 − 1.62)</text>
<text x="147.8" y="477.6" font-size="8.2" font-weight="400" fill="#222" text-anchor="end" textLength="40.0" lengthAdjust="spacingAndGlyphs" stroke="#222" stroke-width="0.12">logrank P = 0.41</text>
<text x="44.6" y="569.0" font-size="8.6" font-weight="400" fill="#222" text-anchor="start" textLength="27.3" lengthAdjust="spacingAndGlyphs" stroke="#222" stroke-width="0.12">Expression</text>
<line x1="46.2" y1="577.8" x2="56.2" y2="577.8" stroke="#111" stroke-width="1.6"/>
<text x="60.3" y="579.8" font-size="8" font-weight="400" fill="#222" text-anchor="start" textLength="8.2" lengthAdjust="spacingAndGlyphs" stroke="#222" stroke-width="0.12">low</text>
<line x1="46.2" y1="587.0" x2="56.2" y2="587.0" stroke="#c8acac" stroke-width="1.3"/>
<text x="60.3" y="589.4" font-size="8" font-weight="400" fill="#333" text-anchor="start" textLength="10.4" lengthAdjust="spacingAndGlyphs" stroke="#333" stroke-width="0.12">high</text>
<text x="30.6" y="620.9" font-size="9" font-weight="400" fill="#222" text-anchor="start" textLength="35.7" lengthAdjust="spacingAndGlyphs" stroke="#222" stroke-width="0.12">Number at risk</text>
<text x="81.0" y="617.9" font-size="9" font-weight="400" fill="#222" text-anchor="start" textLength="35.0" lengthAdjust="spacingAndGlyphs" stroke="#222" stroke-width="0.12">Time (months)</text>
<text x="32.0" y="630.2" font-size="9" font-weight="400" fill="#222" text-anchor="start" textLength="7.8" lengthAdjust="spacingAndGlyphs" stroke="#222" stroke-width="0.12">low</text>
<text x="30.2" y="638.2" font-size="9" font-weight="400" fill="#c99ca6" text-anchor="start" textLength="10.2" lengthAdjust="spacingAndGlyphs" stroke="#c99ca6" stroke-width="0.12">high</text>
<text x="48.0" y="630.2" font-size="9" font-weight="400" fill="#222" text-anchor="middle" textLength="6.4" lengthAdjust="spacingAndGlyphs" stroke="#222" stroke-width="0.12">34</text>
<text x="48.0" y="638.2" font-size="9" font-weight="400" fill="#c99ca6" text-anchor="middle" textLength="6.4" lengthAdjust="spacingAndGlyphs" stroke="#c99ca6" stroke-width="0.12">35</text>
<text x="80.0" y="630.2" font-size="9" font-weight="400" fill="#222" text-anchor="middle" textLength="6.4" lengthAdjust="spacingAndGlyphs" stroke="#222" stroke-width="0.12">11</text>
<text x="80.0" y="638.2" font-size="9" font-weight="400" fill="#c99ca6" text-anchor="middle" textLength="6.4" lengthAdjust="spacingAndGlyphs" stroke="#c99ca6" stroke-width="0.12">12</text>
<text x="114.0" y="630.2" font-size="9" font-weight="400" fill="#222" text-anchor="middle" textLength="3.2" lengthAdjust="spacingAndGlyphs" stroke="#222" stroke-width="0.12">4</text>
<text x="114.0" y="638.2" font-size="9" font-weight="400" fill="#c99ca6" text-anchor="middle" textLength="3.2" lengthAdjust="spacingAndGlyphs" stroke="#c99ca6" stroke-width="0.12">5</text>
<text x="148.0" y="630.2" font-size="9" font-weight="400" fill="#222" text-anchor="middle" textLength="3.2" lengthAdjust="spacingAndGlyphs" stroke="#222" stroke-width="0.12">1</text>
<text x="148.0" y="638.2" font-size="9" font-weight="400" fill="#c99ca6" text-anchor="middle" textLength="3.2" lengthAdjust="spacingAndGlyphs" stroke="#c99ca6" stroke-width="0.12">2</text>
<polyline points="47.0,461.5 55.5,461.5 55.5,461.5 56.3,461.5 56.3,472.8 57.8,472.8 57.8,474.0 59.4,474.0 59.4,475.2 60.2,475.2 60.2,478.3 71.0,478.3 71.0,478.3 71.8,478.3 71.8,483.7 75.7,483.7 75.7,483.7 76.4,483.7 76.4,497.6 80.3,497.6 80.3,497.6 81.9,497.6 81.9,505.0 101.1,505.0 101.1,505.0 101.8,505.0 101.8,517.3 131.2,517.3 131.2,517.3 131.6,517.3 131.6,535.3 147.5,535.3 147.5,535.3" fill="none" stroke="#a87a7c" stroke-width="1.3" stroke-linejoin="miter"/>
<polyline points="47.0,461.5 49.3,461.5 49.3,462.8 50.9,462.8 50.9,465.9 52.4,465.9 52.4,468.2 54.0,468.2 54.0,472.1 55.5,472.1 55.5,473.6 57.0,473.6 57.0,474.8 58.6,474.8 58.6,475.9 59.4,475.9 59.4,479.0 61.0,479.0 61.0,480.2 62.5,480.2 62.5,481.4 64.5,481.4 64.5,482.5 66.4,482.5 66.4,483.7 67.1,483.7 67.1,492.2 72.6,492.2 72.6,492.2 74.1,492.2 74.1,504.6 76.4,504.6 76.4,511.8 86.1,511.8 86.1,511.8 86.8,511.8 86.8,518.6 88.3,518.6 88.3,518.8 89.9,518.8 89.9,519.0 91.5,519.0 91.5,519.1 93.0,519.1 93.0,519.3 93.4,519.3 93.4,526.8 118.2,526.8 118.2,526.8 118.9,526.8 118.9,548.0 148.2,548.0 148.2,548.0" fill="none" stroke="#111" stroke-width="1.4" stroke-linejoin="miter"/>
<line x1="102.5" y1="525.2" x2="102.5" y2="528.4" stroke="#111" stroke-width="1.1"/>
<line x1="105.2" y1="525.2" x2="105.2" y2="528.4" stroke="#111" stroke-width="1.1"/>
<line x1="106.6" y1="525.2" x2="106.6" y2="528.4" stroke="#111" stroke-width="1.1"/>
<line x1="108.6" y1="525.2" x2="108.6" y2="528.4" stroke="#111" stroke-width="1.1"/>
<line x1="117.5" y1="525.2" x2="117.5" y2="528.4" stroke="#111" stroke-width="1.1"/>
<line x1="133.2" y1="546.4" x2="133.2" y2="549.6" stroke="#111" stroke-width="1.1"/>
<line x1="148.2" y1="546.4" x2="148.2" y2="549.6" stroke="#111" stroke-width="1.1"/>
<line x1="52.4" y1="466.6" x2="52.4" y2="469.8" stroke="#111" stroke-width="1.1"/>
<line x1="55.5" y1="472.0" x2="55.5" y2="475.2" stroke="#111" stroke-width="1.1"/>
<line x1="60.0" y1="479.4" x2="60.0" y2="482.6" stroke="#111" stroke-width="1.1"/>
<line x1="66.4" y1="482.1" x2="66.4" y2="485.3" stroke="#111" stroke-width="1.1"/>
<line x1="72.6" y1="490.6" x2="72.6" y2="493.8" stroke="#111" stroke-width="1.1"/>
<line x1="76.4" y1="510.2" x2="76.4" y2="513.4" stroke="#111" stroke-width="1.1"/>
<line x1="82.7" y1="503.4" x2="82.7" y2="506.6" stroke="#a87a7c" stroke-width="1.1"/>
<line x1="84.8" y1="503.4" x2="84.8" y2="506.6" stroke="#a87a7c" stroke-width="1.1"/>
<line x1="86.1" y1="503.4" x2="86.1" y2="506.6" stroke="#a87a7c" stroke-width="1.1"/>
<line x1="104.6" y1="515.7" x2="104.6" y2="518.9" stroke="#a87a7c" stroke-width="1.1"/>
<line x1="114.8" y1="515.7" x2="114.8" y2="518.9" stroke="#a87a7c" stroke-width="1.1"/>
<line x1="147.5" y1="533.7" x2="147.5" y2="536.9" stroke="#a87a7c" stroke-width="1.1"/>
<line x1="64.0" y1="476.7" x2="64.0" y2="479.9" stroke="#a87a7c" stroke-width="1.1"/>
<line x1="67.0" y1="476.7" x2="67.0" y2="479.9" stroke="#a87a7c" stroke-width="1.1"/>
<line x1="69.0" y1="476.7" x2="69.0" y2="479.9" stroke="#a87a7c" stroke-width="1.1"/>
<line x1="73.0" y1="482.1" x2="73.0" y2="485.3" stroke="#a87a7c" stroke-width="1.1"/>
<line x1="79.0" y1="496.0" x2="79.0" y2="499.2" stroke="#a87a7c" stroke-width="1.1"/>
<rect x="174.0" y="456.2" width="108.4" height="138.8" fill="none" stroke="#222" stroke-width="1.4"/>
<line x1="171.2" y1="589.8" x2="174.0" y2="589.8" stroke="#222" stroke-width="1.1"/>
<text transform="translate(171.1,589.5) rotate(-90)" x="0" y="0" font-size="8" font-weight="400" fill="#333" text-anchor="middle" textLength="12.8" lengthAdjust="spacingAndGlyphs" stroke="#333" stroke-width="0.12">0.0</text>
<line x1="171.2" y1="564.2" x2="174.0" y2="564.2" stroke="#222" stroke-width="1.1"/>
<text transform="translate(171.1,563.9) rotate(-90)" x="0" y="0" font-size="8" font-weight="400" fill="#333" text-anchor="middle" textLength="12.8" lengthAdjust="spacingAndGlyphs" stroke="#333" stroke-width="0.12">0.2</text>
<line x1="171.2" y1="538.6" x2="174.0" y2="538.6" stroke="#222" stroke-width="1.1"/>
<text transform="translate(171.1,538.3) rotate(-90)" x="0" y="0" font-size="8" font-weight="400" fill="#333" text-anchor="middle" textLength="12.8" lengthAdjust="spacingAndGlyphs" stroke="#333" stroke-width="0.12">0.4</text>
<line x1="171.2" y1="513.0" x2="174.0" y2="513.0" stroke="#222" stroke-width="1.1"/>
<text transform="translate(171.1,512.7) rotate(-90)" x="0" y="0" font-size="8" font-weight="400" fill="#333" text-anchor="middle" textLength="12.8" lengthAdjust="spacingAndGlyphs" stroke="#333" stroke-width="0.12">0.6</text>
<line x1="171.2" y1="487.4" x2="174.0" y2="487.4" stroke="#222" stroke-width="1.1"/>
<text transform="translate(171.1,487.1) rotate(-90)" x="0" y="0" font-size="8" font-weight="400" fill="#333" text-anchor="middle" textLength="12.8" lengthAdjust="spacingAndGlyphs" stroke="#333" stroke-width="0.12">0.8</text>
<line x1="171.2" y1="461.8" x2="174.0" y2="461.8" stroke="#222" stroke-width="1.1"/>
<text transform="translate(171.1,461.5) rotate(-90)" x="0" y="0" font-size="8" font-weight="400" fill="#333" text-anchor="middle" textLength="12.8" lengthAdjust="spacingAndGlyphs" stroke="#333" stroke-width="0.12">1.0</text>
<text transform="translate(161.8,526.4) rotate(-90)" x="0" y="0" font-size="9" font-weight="400" fill="#222" text-anchor="middle" textLength="55.0" lengthAdjust="spacingAndGlyphs" stroke="#222" stroke-width="0.12">Probability</text>
<line x1="177.6" y1="595.0" x2="177.6" y2="598.0" stroke="#222" stroke-width="1.1"/>
<text x="177.6" y="606.2" font-size="7.2" font-weight="400" fill="#333" text-anchor="middle" textLength="3.4" lengthAdjust="spacingAndGlyphs" stroke="#333" stroke-width="0.12">0</text>
<line x1="211.6" y1="595.0" x2="211.6" y2="598.0" stroke="#222" stroke-width="1.1"/>
<text x="211.6" y="606.2" font-size="7.2" font-weight="400" fill="#333" text-anchor="middle" textLength="5.6" lengthAdjust="spacingAndGlyphs" stroke="#333" stroke-width="0.12">20</text>
<line x1="245.6" y1="595.0" x2="245.6" y2="598.0" stroke="#222" stroke-width="1.1"/>
<text x="245.6" y="606.2" font-size="7.2" font-weight="400" fill="#333" text-anchor="middle" textLength="5.6" lengthAdjust="spacingAndGlyphs" stroke="#333" stroke-width="0.12">40</text>
<line x1="279.6" y1="595.0" x2="279.6" y2="598.0" stroke="#222" stroke-width="1.1"/>
<text x="279.6" y="606.2" font-size="7.2" font-weight="400" fill="#333" text-anchor="middle" textLength="5.6" lengthAdjust="spacingAndGlyphs" stroke="#333" stroke-width="0.12">60</text>
<text x="215.0" y="452.3" font-size="9" font-weight="400" fill="#111" text-anchor="start" textLength="22.0" lengthAdjust="spacingAndGlyphs" stroke="#111" stroke-width="0.12">OCT4</text>
<text x="278.9" y="467.0" font-size="8.2" font-weight="400" fill="#222" text-anchor="end" textLength="58.6" lengthAdjust="spacingAndGlyphs" stroke="#222" stroke-width="0.12">HR = 2.22 (0.94 − 5.25)</text>
<text x="278.9" y="477.2" font-size="8.2" font-weight="400" fill="#222" text-anchor="end" textLength="43.6" lengthAdjust="spacingAndGlyphs" stroke="#222" stroke-width="0.12">logrank P = 0.063</text>
<text x="176.6" y="569.0" font-size="8.6" font-weight="400" fill="#222" text-anchor="start" textLength="27.3" lengthAdjust="spacingAndGlyphs" stroke="#222" stroke-width="0.12">Expression</text>
<line x1="178.2" y1="577.8" x2="188.2" y2="577.8" stroke="#111" stroke-width="1.6"/>
<text x="192.3" y="579.8" font-size="8" font-weight="400" fill="#222" text-anchor="start" textLength="8.2" lengthAdjust="spacingAndGlyphs" stroke="#222" stroke-width="0.12">low</text>
<line x1="178.2" y1="587.0" x2="188.2" y2="587.0" stroke="#c8acac" stroke-width="1.3"/>
<text x="192.3" y="589.4" font-size="8" font-weight="400" fill="#333" text-anchor="start" textLength="10.4" lengthAdjust="spacingAndGlyphs" stroke="#333" stroke-width="0.12">high</text>
<text x="164.0" y="618.5" font-size="9" font-weight="400" fill="#222" text-anchor="start" textLength="35.7" lengthAdjust="spacingAndGlyphs" stroke="#222" stroke-width="0.12">Number at risk</text>
<text x="213.0" y="618.5" font-size="9" font-weight="400" fill="#222" text-anchor="start" textLength="35.0" lengthAdjust="spacingAndGlyphs" stroke="#222" stroke-width="0.12">Time (months)</text>
<text x="166.0" y="630.2" font-size="9" font-weight="400" fill="#222" text-anchor="start" textLength="7.8" lengthAdjust="spacingAndGlyphs" stroke="#222" stroke-width="0.12">low</text>
<text x="164.2" y="639.6" font-size="9" font-weight="400" fill="#c99ca6" text-anchor="start" textLength="10.2" lengthAdjust="spacingAndGlyphs" stroke="#c99ca6" stroke-width="0.12">high</text>
<text x="179.6" y="630.2" font-size="9" font-weight="400" fill="#222" text-anchor="middle" textLength="6.4" lengthAdjust="spacingAndGlyphs" stroke="#222" stroke-width="0.12">34</text>
<text x="179.6" y="639.6" font-size="9" font-weight="400" fill="#c99ca6" text-anchor="middle" textLength="6.4" lengthAdjust="spacingAndGlyphs" stroke="#c99ca6" stroke-width="0.12">35</text>
<text x="211.6" y="630.2" font-size="9" font-weight="400" fill="#222" text-anchor="middle" textLength="6.4" lengthAdjust="spacingAndGlyphs" stroke="#222" stroke-width="0.12">12</text>
<text x="211.6" y="639.6" font-size="9" font-weight="400" fill="#c99ca6" text-anchor="middle" textLength="6.4" lengthAdjust="spacingAndGlyphs" stroke="#c99ca6" stroke-width="0.12">11</text>
<text x="245.6" y="630.2" font-size="9" font-weight="400" fill="#222" text-anchor="middle" textLength="3.2" lengthAdjust="spacingAndGlyphs" stroke="#222" stroke-width="0.12">5</text>
<text x="245.6" y="639.6" font-size="9" font-weight="400" fill="#c99ca6" text-anchor="middle" textLength="3.2" lengthAdjust="spacingAndGlyphs" stroke="#c99ca6" stroke-width="0.12">4</text>
<text x="279.6" y="630.2" font-size="9" font-weight="400" fill="#222" text-anchor="middle" textLength="3.2" lengthAdjust="spacingAndGlyphs" stroke="#222" stroke-width="0.12">2</text>
<text x="279.6" y="639.6" font-size="9" font-weight="400" fill="#c99ca6" text-anchor="middle" textLength="3.2" lengthAdjust="spacingAndGlyphs" stroke="#c99ca6" stroke-width="0.12">1</text>
<polyline points="178.2,461.2 179.8,461.2 179.8,462.2 181.3,462.2 181.3,463.3 182.8,463.3 182.8,464.3 184.4,464.3 184.4,465.3 185.9,465.3 185.9,466.4 187.5,466.4 187.5,467.4 188.3,467.4 188.3,476.7 189.9,476.7 189.9,479.4 191.4,479.4 191.4,482.1 193.7,482.1 193.7,486.0 196.0,486.0 196.0,489.9 197.9,489.9 197.9,492.6 199.9,492.6 199.9,495.3 201.9,495.3 201.9,497.6 203.8,497.6 203.8,500.0 205.4,500.0 205.4,504.2 206.9,504.2 206.9,508.5 208.6,508.5 208.6,508.9 210.3,508.9 210.3,509.4 212.0,509.4 212.0,509.8 212.7,509.8 212.7,515.2 214.4,515.2 214.4,515.9 216.1,515.9 216.1,516.6 218.2,516.6 218.2,518.6 218.9,518.6 218.9,524.8 233.2,524.8 233.2,524.8 233.9,524.8 233.9,535.7 250.2,535.7 250.2,535.7 250.7,535.7 250.7,549.3 263.2,549.3 263.2,549.3 263.5,549.3 263.5,563.0 279.6,563.0 279.6,563.0" fill="none" stroke="#a87a7c" stroke-width="1.3" stroke-linejoin="miter"/>
<polyline points="178.2,461.2 179.8,461.2 179.8,462.0 181.3,462.0 181.3,462.8 182.9,462.8 182.9,464.0 184.4,464.0 184.4,465.1 185.9,465.1 185.9,466.2 187.5,466.2 187.5,467.4 189.8,467.4 189.8,469.7 197.6,469.7 197.6,469.7 199.1,469.7 199.1,474.4 205.3,474.4 205.3,474.4 206.1,474.4 206.1,486.0 207.7,486.0 207.7,487.6 208.4,487.6 208.4,500.2 224.3,500.2 224.3,500.2 225.0,500.2 225.0,509.8 279.6,509.8 279.6,509.8" fill="none" stroke="#111" stroke-width="1.4" stroke-linejoin="miter"/>
<line x1="211.4" y1="498.6" x2="211.4" y2="501.8" stroke="#111" stroke-width="1.1"/>
<line x1="213.4" y1="498.6" x2="213.4" y2="501.8" stroke="#111" stroke-width="1.1"/>
<line x1="217.5" y1="498.6" x2="217.5" y2="501.8" stroke="#111" stroke-width="1.1"/>
<line x1="234.6" y1="508.2" x2="234.6" y2="511.4" stroke="#111" stroke-width="1.1"/>
<line x1="235.9" y1="508.2" x2="235.9" y2="511.4" stroke="#111" stroke-width="1.1"/>
<line x1="239.3" y1="508.2" x2="239.3" y2="511.4" stroke="#111" stroke-width="1.1"/>
<line x1="240.7" y1="508.2" x2="240.7" y2="511.4" stroke="#111" stroke-width="1.1"/>
<line x1="246.2" y1="508.2" x2="246.2" y2="511.4" stroke="#111" stroke-width="1.1"/>
<line x1="248.2" y1="508.2" x2="248.2" y2="511.4" stroke="#111" stroke-width="1.1"/>
<line x1="249.6" y1="508.2" x2="249.6" y2="511.4" stroke="#111" stroke-width="1.1"/>
<line x1="264.6" y1="508.2" x2="264.6" y2="511.4" stroke="#111" stroke-width="1.1"/>
<line x1="279.6" y1="508.2" x2="279.6" y2="511.4" stroke="#111" stroke-width="1.1"/>
<line x1="189.8" y1="468.1" x2="189.8" y2="471.3" stroke="#111" stroke-width="1.1"/>
<line x1="192.0" y1="468.1" x2="192.0" y2="471.3" stroke="#111" stroke-width="1.1"/>
<line x1="195.0" y1="468.1" x2="195.0" y2="471.3" stroke="#111" stroke-width="1.1"/>
<line x1="197.6" y1="468.1" x2="197.6" y2="471.3" stroke="#111" stroke-width="1.1"/>
<line x1="205.3" y1="472.8" x2="205.3" y2="476.0" stroke="#111" stroke-width="1.1"/>
<line x1="206.4" y1="485.4" x2="206.4" y2="488.6" stroke="#111" stroke-width="1.1"/>
<line x1="237.3" y1="534.1" x2="237.3" y2="537.3" stroke="#a87a7c" stroke-width="1.1"/>
<line x1="279.6" y1="561.4" x2="279.6" y2="564.6" stroke="#a87a7c" stroke-width="1.1"/>
<line x1="191.4" y1="480.4" x2="191.4" y2="483.6" stroke="#a87a7c" stroke-width="1.1"/>
<line x1="194.0" y1="484.4" x2="194.0" y2="487.6" stroke="#a87a7c" stroke-width="1.1"/>
<line x1="196.5" y1="488.4" x2="196.5" y2="491.6" stroke="#a87a7c" stroke-width="1.1"/>
<line x1="200.0" y1="493.7" x2="200.0" y2="496.9" stroke="#a87a7c" stroke-width="1.1"/>
<line x1="204.0" y1="498.4" x2="204.0" y2="501.6" stroke="#a87a7c" stroke-width="1.1"/>
<line x1="212.5" y1="513.4" x2="212.5" y2="516.6" stroke="#a87a7c" stroke-width="1.1"/>
<line x1="216.1" y1="515.0" x2="216.1" y2="518.2" stroke="#a87a7c" stroke-width="1.1"/>
<rect x="304.4" y="456.2" width="109.2" height="138.4" fill="none" stroke="#222" stroke-width="1.4"/>
<line x1="301.6" y1="589.5" x2="304.4" y2="589.5" stroke="#222" stroke-width="1.1"/>
<text transform="translate(301.5,589.2) rotate(-90)" x="0" y="0" font-size="8" font-weight="400" fill="#333" text-anchor="middle" textLength="12.8" lengthAdjust="spacingAndGlyphs" stroke="#333" stroke-width="0.12">0.0</text>
<line x1="301.6" y1="563.8" x2="304.4" y2="563.8" stroke="#222" stroke-width="1.1"/>
<text transform="translate(301.5,563.5) rotate(-90)" x="0" y="0" font-size="8" font-weight="400" fill="#333" text-anchor="middle" textLength="12.8" lengthAdjust="spacingAndGlyphs" stroke="#333" stroke-width="0.12">0.2</text>
<line x1="301.6" y1="538.2" x2="304.4" y2="538.2" stroke="#222" stroke-width="1.1"/>
<text transform="translate(301.5,537.9) rotate(-90)" x="0" y="0" font-size="8" font-weight="400" fill="#333" text-anchor="middle" textLength="12.8" lengthAdjust="spacingAndGlyphs" stroke="#333" stroke-width="0.12">0.4</text>
<line x1="301.6" y1="512.5" x2="304.4" y2="512.5" stroke="#222" stroke-width="1.1"/>
<text transform="translate(301.5,512.2) rotate(-90)" x="0" y="0" font-size="8" font-weight="400" fill="#333" text-anchor="middle" textLength="12.8" lengthAdjust="spacingAndGlyphs" stroke="#333" stroke-width="0.12">0.6</text>
<line x1="301.6" y1="486.9" x2="304.4" y2="486.9" stroke="#222" stroke-width="1.1"/>
<text transform="translate(301.5,486.6) rotate(-90)" x="0" y="0" font-size="8" font-weight="400" fill="#333" text-anchor="middle" textLength="12.8" lengthAdjust="spacingAndGlyphs" stroke="#333" stroke-width="0.12">0.8</text>
<line x1="301.6" y1="461.2" x2="304.4" y2="461.2" stroke="#222" stroke-width="1.1"/>
<text transform="translate(301.5,460.9) rotate(-90)" x="0" y="0" font-size="8" font-weight="400" fill="#333" text-anchor="middle" textLength="12.8" lengthAdjust="spacingAndGlyphs" stroke="#333" stroke-width="0.12">1.0</text>
<text transform="translate(292.2,526.2) rotate(-90)" x="0" y="0" font-size="9" font-weight="400" fill="#222" text-anchor="middle" textLength="55.0" lengthAdjust="spacingAndGlyphs" stroke="#222" stroke-width="0.12">Probability</text>
<line x1="308.4" y1="594.6" x2="308.4" y2="597.6" stroke="#222" stroke-width="1.1"/>
<text x="308.4" y="605.8" font-size="7.2" font-weight="400" fill="#333" text-anchor="middle" textLength="3.4" lengthAdjust="spacingAndGlyphs" stroke="#333" stroke-width="0.12">0</text>
<line x1="342.2" y1="594.6" x2="342.2" y2="597.6" stroke="#222" stroke-width="1.1"/>
<text x="342.2" y="605.8" font-size="7.2" font-weight="400" fill="#333" text-anchor="middle" textLength="5.6" lengthAdjust="spacingAndGlyphs" stroke="#333" stroke-width="0.12">20</text>
<line x1="376.0" y1="594.6" x2="376.0" y2="597.6" stroke="#222" stroke-width="1.1"/>
<text x="376.0" y="605.8" font-size="7.2" font-weight="400" fill="#333" text-anchor="middle" textLength="5.6" lengthAdjust="spacingAndGlyphs" stroke="#333" stroke-width="0.12">40</text>
<line x1="409.8" y1="594.6" x2="409.8" y2="597.6" stroke="#222" stroke-width="1.1"/>
<text x="409.8" y="605.8" font-size="7.2" font-weight="400" fill="#333" text-anchor="middle" textLength="5.6" lengthAdjust="spacingAndGlyphs" stroke="#333" stroke-width="0.12">60</text>
<text x="349.0" y="451.8" font-size="9" font-weight="400" fill="#111" text-anchor="start" textLength="20.6" lengthAdjust="spacingAndGlyphs" stroke="#111" stroke-width="0.12">TERT</text>
<text x="410.1" y="467.0" font-size="8.2" font-weight="400" fill="#222" text-anchor="end" textLength="56.0" lengthAdjust="spacingAndGlyphs" stroke="#222" stroke-width="0.12">HR = 0.79 (0.34 − 1.83)</text>
<text x="410.1" y="477.2" font-size="8.2" font-weight="400" fill="#222" text-anchor="end" textLength="39.0" lengthAdjust="spacingAndGlyphs" stroke="#222" stroke-width="0.12">logrank P = 0.59</text>
<text x="307.0" y="568.6" font-size="8.6" font-weight="400" fill="#222" text-anchor="start" textLength="27.3" lengthAdjust="spacingAndGlyphs" stroke="#222" stroke-width="0.12">Expression</text>
<line x1="308.6" y1="577.4" x2="318.6" y2="577.4" stroke="#111" stroke-width="1.6"/>
<text x="322.7" y="579.4" font-size="8" font-weight="400" fill="#222" text-anchor="start" textLength="8.2" lengthAdjust="spacingAndGlyphs" stroke="#222" stroke-width="0.12">low</text>
<line x1="308.6" y1="586.6" x2="318.6" y2="586.6" stroke="#c8acac" stroke-width="1.3"/>
<text x="322.7" y="589.0" font-size="8" font-weight="400" fill="#333" text-anchor="start" textLength="10.4" lengthAdjust="spacingAndGlyphs" stroke="#333" stroke-width="0.12">high</text>
<text x="294.0" y="619.5" font-size="9" font-weight="400" fill="#222" text-anchor="start" textLength="35.7" lengthAdjust="spacingAndGlyphs" stroke="#222" stroke-width="0.12">Number at risk</text>
<text x="343.6" y="617.3" font-size="9" font-weight="400" fill="#222" text-anchor="start" textLength="35.0" lengthAdjust="spacingAndGlyphs" stroke="#222" stroke-width="0.12">Time (months)</text>
<text x="295.0" y="629.4" font-size="9" font-weight="400" fill="#222" text-anchor="start" textLength="7.8" lengthAdjust="spacingAndGlyphs" stroke="#222" stroke-width="0.12">low</text>
<text x="293.2" y="637.6" font-size="9" font-weight="400" fill="#c99ca6" text-anchor="start" textLength="10.2" lengthAdjust="spacingAndGlyphs" stroke="#c99ca6" stroke-width="0.12">high</text>
<text x="310.4" y="629.4" font-size="9" font-weight="400" fill="#222" text-anchor="middle" textLength="6.4" lengthAdjust="spacingAndGlyphs" stroke="#222" stroke-width="0.12">36</text>
<text x="310.4" y="637.6" font-size="9" font-weight="400" fill="#c99ca6" text-anchor="middle" textLength="6.4" lengthAdjust="spacingAndGlyphs" stroke="#c99ca6" stroke-width="0.12">33</text>
<text x="342.2" y="629.4" font-size="9" font-weight="400" fill="#222" text-anchor="middle" textLength="6.4" lengthAdjust="spacingAndGlyphs" stroke="#222" stroke-width="0.12">13</text>
<text x="342.2" y="637.6" font-size="9" font-weight="400" fill="#c99ca6" text-anchor="middle" textLength="6.4" lengthAdjust="spacingAndGlyphs" stroke="#c99ca6" stroke-width="0.12">10</text>
<text x="376.0" y="629.4" font-size="9" font-weight="400" fill="#222" text-anchor="middle" textLength="3.2" lengthAdjust="spacingAndGlyphs" stroke="#222" stroke-width="0.12">5</text>
<text x="376.0" y="637.6" font-size="9" font-weight="400" fill="#c99ca6" text-anchor="middle" textLength="3.2" lengthAdjust="spacingAndGlyphs" stroke="#c99ca6" stroke-width="0.12">4</text>
<text x="409.8" y="629.4" font-size="9" font-weight="400" fill="#222" text-anchor="middle" textLength="3.2" lengthAdjust="spacingAndGlyphs" stroke="#222" stroke-width="0.12">2</text>
<text x="409.8" y="637.6" font-size="9" font-weight="400" fill="#c99ca6" text-anchor="middle" textLength="3.2" lengthAdjust="spacingAndGlyphs" stroke="#c99ca6" stroke-width="0.12">1</text>
<polyline points="308.2,461.2 309.7,461.2 309.7,462.4 311.3,462.4 311.3,463.6 312.8,463.6 312.8,464.8 314.4,464.8 314.4,466.1 315.9,466.1 315.9,467.3 317.5,467.3 317.5,468.5 319.0,468.5 319.0,469.7 320.9,469.7 320.9,472.0 322.9,472.0 322.9,474.4 324.9,474.4 324.9,475.9 326.8,475.9 326.8,477.5 328.8,477.5 328.8,481.0 330.7,481.0 330.7,484.5 332.2,484.5 332.2,485.8 333.8,485.8 333.8,487.0 336.1,487.0 336.1,493.8 337.7,493.8 337.7,498.2 355.0,498.2 355.0,498.2 355.7,498.2 355.7,511.1 364.3,511.1 364.3,511.1 364.8,511.1 364.8,524.1 410.3,524.1 410.3,524.1" fill="none" stroke="#a87a7c" stroke-width="1.3" stroke-linejoin="miter"/>
<polyline points="308.2,461.2 309.8,461.2 309.8,462.0 311.3,462.0 311.3,462.7 312.9,462.7 312.9,463.5 314.8,463.5 314.8,465.4 316.7,465.4 316.7,467.4 318.2,467.4 318.2,469.4 319.8,469.4 319.8,471.3 321.4,471.3 321.4,475.9 323.4,475.9 323.4,477.1 325.3,477.1 325.3,478.3 327.6,478.3 327.6,481.4 329.1,481.4 329.1,482.9 330.7,482.9 330.7,484.5 332.2,484.5 332.2,485.2 333.8,485.2 333.8,486.0 336.1,486.0 336.1,493.8 338.4,493.8 338.4,499.2 339.2,499.2 339.2,507.7 340.9,507.7 340.9,510.8 342.7,510.8 342.7,513.9 348.2,513.9 348.2,513.9 349.5,513.9 349.5,521.4 380.2,521.4 380.2,521.4 380.9,521.4 380.9,538.0 393.2,538.0 393.2,538.0 393.9,538.0 393.9,555.5 410.3,555.5 410.3,555.5" fill="none" stroke="#111" stroke-width="1.4" stroke-linejoin="miter"/>
<line x1="367.3" y1="519.8" x2="367.3" y2="523.0" stroke="#111" stroke-width="1.1"/>
<line x1="370.0" y1="519.8" x2="370.0" y2="523.0" stroke="#111" stroke-width="1.1"/>
<line x1="371.4" y1="519.8" x2="371.4" y2="523.0" stroke="#111" stroke-width="1.1"/>
<line x1="379.6" y1="519.8" x2="379.6" y2="523.0" stroke="#111" stroke-width="1.1"/>
<line x1="410.3" y1="553.9" x2="410.3" y2="557.1" stroke="#111" stroke-width="1.1"/>
<line x1="316.7" y1="465.8" x2="316.7" y2="469.0" stroke="#111" stroke-width="1.1"/>
<line x1="321.4" y1="474.3" x2="321.4" y2="477.5" stroke="#111" stroke-width="1.1"/>
<line x1="325.3" y1="476.7" x2="325.3" y2="479.9" stroke="#111" stroke-width="1.1"/>
<line x1="330.7" y1="482.9" x2="330.7" y2="486.1" stroke="#111" stroke-width="1.1"/>
<line x1="333.8" y1="484.4" x2="333.8" y2="487.6" stroke="#111" stroke-width="1.1"/>
<line x1="343.1" y1="507.7" x2="343.1" y2="510.9" stroke="#111" stroke-width="1.1"/>
<line x1="344.1" y1="496.6" x2="344.1" y2="499.8" stroke="#a87a7c" stroke-width="1.1"/>
<line x1="346.1" y1="496.6" x2="346.1" y2="499.8" stroke="#a87a7c" stroke-width="1.1"/>
<line x1="350.2" y1="496.6" x2="350.2" y2="499.8" stroke="#a87a7c" stroke-width="1.1"/>
<line x1="366.6" y1="522.5" x2="366.6" y2="525.7" stroke="#a87a7c" stroke-width="1.1"/>
<line x1="371.4" y1="522.5" x2="371.4" y2="525.7" stroke="#a87a7c" stroke-width="1.1"/>
<line x1="376.8" y1="522.5" x2="376.8" y2="525.7" stroke="#a87a7c" stroke-width="1.1"/>
<line x1="395.3" y1="522.5" x2="395.3" y2="525.7" stroke="#a87a7c" stroke-width="1.1"/>
<line x1="410.3" y1="522.5" x2="410.3" y2="525.7" stroke="#a87a7c" stroke-width="1.1"/>
<line x1="319.0" y1="468.1" x2="319.0" y2="471.3" stroke="#a87a7c" stroke-width="1.1"/>
<line x1="322.9" y1="472.8" x2="322.9" y2="476.0" stroke="#a87a7c" stroke-width="1.1"/>
<line x1="326.8" y1="475.9" x2="326.8" y2="479.1" stroke="#a87a7c" stroke-width="1.1"/>
<line x1="333.0" y1="485.4" x2="333.0" y2="488.6" stroke="#a87a7c" stroke-width="1.1"/>
<line x1="336.0" y1="492.4" x2="336.0" y2="495.6" stroke="#a87a7c" stroke-width="1.1"/>
<rect x="435.6" y="456.4" width="109.4" height="138.4" fill="none" stroke="#222" stroke-width="1.4"/>
<line x1="432.8" y1="589.5" x2="435.6" y2="589.5" stroke="#222" stroke-width="1.1"/>
<text transform="translate(432.7,589.2) rotate(-90)" x="0" y="0" font-size="8" font-weight="400" fill="#333" text-anchor="middle" textLength="12.8" lengthAdjust="spacingAndGlyphs" stroke="#333" stroke-width="0.12">0.0</text>
<line x1="432.8" y1="563.8" x2="435.6" y2="563.8" stroke="#222" stroke-width="1.1"/>
<text transform="translate(432.7,563.5) rotate(-90)" x="0" y="0" font-size="8" font-weight="400" fill="#333" text-anchor="middle" textLength="12.8" lengthAdjust="spacingAndGlyphs" stroke="#333" stroke-width="0.12">0.2</text>
<line x1="432.8" y1="538.2" x2="435.6" y2="538.2" stroke="#222" stroke-width="1.1"/>
<text transform="translate(432.7,537.9) rotate(-90)" x="0" y="0" font-size="8" font-weight="400" fill="#333" text-anchor="middle" textLength="12.8" lengthAdjust="spacingAndGlyphs" stroke="#333" stroke-width="0.12">0.4</text>
<line x1="432.8" y1="512.5" x2="435.6" y2="512.5" stroke="#222" stroke-width="1.1"/>
<text transform="translate(432.7,512.2) rotate(-90)" x="0" y="0" font-size="8" font-weight="400" fill="#333" text-anchor="middle" textLength="12.8" lengthAdjust="spacingAndGlyphs" stroke="#333" stroke-width="0.12">0.6</text>
<line x1="432.8" y1="486.9" x2="435.6" y2="486.9" stroke="#222" stroke-width="1.1"/>
<text transform="translate(432.7,486.6) rotate(-90)" x="0" y="0" font-size="8" font-weight="400" fill="#333" text-anchor="middle" textLength="12.8" lengthAdjust="spacingAndGlyphs" stroke="#333" stroke-width="0.12">0.8</text>
<line x1="432.8" y1="461.2" x2="435.6" y2="461.2" stroke="#222" stroke-width="1.1"/>
<text transform="translate(432.7,460.9) rotate(-90)" x="0" y="0" font-size="8" font-weight="400" fill="#333" text-anchor="middle" textLength="12.8" lengthAdjust="spacingAndGlyphs" stroke="#333" stroke-width="0.12">1.0</text>
<text transform="translate(423.4,526.4) rotate(-90)" x="0" y="0" font-size="9" font-weight="400" fill="#222" text-anchor="middle" textLength="55.0" lengthAdjust="spacingAndGlyphs" stroke="#222" stroke-width="0.12">Probability</text>
<line x1="440.0" y1="594.8" x2="440.0" y2="597.8" stroke="#222" stroke-width="1.1"/>
<text x="440.0" y="606.0" font-size="7.2" font-weight="400" fill="#333" text-anchor="middle" textLength="3.4" lengthAdjust="spacingAndGlyphs" stroke="#333" stroke-width="0.12">0</text>
<line x1="473.5" y1="594.8" x2="473.5" y2="597.8" stroke="#222" stroke-width="1.1"/>
<text x="473.5" y="606.0" font-size="7.2" font-weight="400" fill="#333" text-anchor="middle" textLength="5.6" lengthAdjust="spacingAndGlyphs" stroke="#333" stroke-width="0.12">20</text>
<line x1="507.0" y1="594.8" x2="507.0" y2="597.8" stroke="#222" stroke-width="1.1"/>
<text x="507.0" y="606.0" font-size="7.2" font-weight="400" fill="#333" text-anchor="middle" textLength="5.6" lengthAdjust="spacingAndGlyphs" stroke="#333" stroke-width="0.12">40</text>
<line x1="540.5" y1="594.8" x2="540.5" y2="597.8" stroke="#222" stroke-width="1.1"/>
<text x="540.5" y="606.0" font-size="7.2" font-weight="400" fill="#333" text-anchor="middle" textLength="5.6" lengthAdjust="spacingAndGlyphs" stroke="#333" stroke-width="0.12">60</text>
<text x="453.6" y="453.0" font-size="9" font-weight="400" fill="#111" text-anchor="start" textLength="71.4" lengthAdjust="spacingAndGlyphs" stroke="#111" stroke-width="0.12">SOX2 OCT4 TERT</text>
<text x="541.5" y="467.2" font-size="8.2" font-weight="400" fill="#222" text-anchor="end" textLength="57.0" lengthAdjust="spacingAndGlyphs" stroke="#222" stroke-width="0.12">HR = 1.74 (0.53 − 5.71)</text>
<text x="541.5" y="477.4" font-size="8.2" font-weight="400" fill="#222" text-anchor="end" textLength="40.0" lengthAdjust="spacingAndGlyphs" stroke="#222" stroke-width="0.12">logrank P = 0.36</text>
<text x="438.2" y="568.8" font-size="8.6" font-weight="400" fill="#222" text-anchor="start" textLength="27.3" lengthAdjust="spacingAndGlyphs" stroke="#222" stroke-width="0.12">Expression</text>
<line x1="439.8" y1="577.6" x2="449.8" y2="577.6" stroke="#111" stroke-width="1.6"/>
<text x="453.9" y="579.6" font-size="8" font-weight="400" fill="#222" text-anchor="start" textLength="8.2" lengthAdjust="spacingAndGlyphs" stroke="#222" stroke-width="0.12">low</text>
<line x1="439.8" y1="586.8" x2="449.8" y2="586.8" stroke="#c8acac" stroke-width="1.3"/>
<text x="453.9" y="589.2" font-size="8" font-weight="400" fill="#333" text-anchor="start" textLength="10.4" lengthAdjust="spacingAndGlyphs" stroke="#333" stroke-width="0.12">high</text>
<text x="424.0" y="617.9" font-size="9" font-weight="400" fill="#222" text-anchor="start" textLength="35.7" lengthAdjust="spacingAndGlyphs" stroke="#222" stroke-width="0.12">Number at risk</text>
<text x="474.4" y="617.9" font-size="9" font-weight="400" fill="#222" text-anchor="start" textLength="35.0" lengthAdjust="spacingAndGlyphs" stroke="#222" stroke-width="0.12">Time (months)</text>
<text x="425.0" y="630.2" font-size="9" font-weight="400" fill="#222" text-anchor="start" textLength="7.8" lengthAdjust="spacingAndGlyphs" stroke="#222" stroke-width="0.12">low</text>
<text x="423.2" y="637.6" font-size="9" font-weight="400" fill="#c99ca6" text-anchor="start" textLength="10.2" lengthAdjust="spacingAndGlyphs" stroke="#c99ca6" stroke-width="0.12">high</text>
<text x="442.0" y="630.2" font-size="9" font-weight="400" fill="#222" text-anchor="middle" textLength="6.4" lengthAdjust="spacingAndGlyphs" stroke="#222" stroke-width="0.12">14</text>
<text x="442.0" y="637.6" font-size="9" font-weight="400" fill="#c99ca6" text-anchor="middle" textLength="6.4" lengthAdjust="spacingAndGlyphs" stroke="#c99ca6" stroke-width="0.12">15</text>
<text x="473.5" y="630.2" font-size="9" font-weight="400" fill="#222" text-anchor="middle" textLength="3.2" lengthAdjust="spacingAndGlyphs" stroke="#222" stroke-width="0.12">6</text>
<text x="473.5" y="637.6" font-size="9" font-weight="400" fill="#c99ca6" text-anchor="middle" textLength="3.2" lengthAdjust="spacingAndGlyphs" stroke="#c99ca6" stroke-width="0.12">2</text>
<text x="507.0" y="630.2" font-size="9" font-weight="400" fill="#222" text-anchor="middle" textLength="3.2" lengthAdjust="spacingAndGlyphs" stroke="#222" stroke-width="0.12">3</text>
<text x="507.0" y="637.6" font-size="9" font-weight="400" fill="#c99ca6" text-anchor="middle" textLength="3.2" lengthAdjust="spacingAndGlyphs" stroke="#c99ca6" stroke-width="0.12">2</text>
<text x="540.5" y="630.2" font-size="9" font-weight="400" fill="#222" text-anchor="middle" textLength="3.2" lengthAdjust="spacingAndGlyphs" stroke="#222" stroke-width="0.12">0</text>
<text x="540.5" y="637.6" font-size="9" font-weight="400" fill="#c99ca6" text-anchor="middle" textLength="3.2" lengthAdjust="spacingAndGlyphs" stroke="#c99ca6" stroke-width="0.12">1</text>
<polyline points="440.2,461.5 449.5,461.5 449.5,461.5 450.3,461.5 450.3,480.6 454.1,480.6 454.1,480.6 454.9,480.6 454.9,491.4 456.5,491.4 456.5,501.5 461.1,501.5 461.1,501.5 461.6,501.5 461.6,514.6 465.0,514.6 465.0,514.6 465.7,514.6 465.7,526.8 511.6,526.8 511.6,526.8 512.1,526.8 512.1,558.3 541.5,558.3 541.5,558.3" fill="none" stroke="#a87a7c" stroke-width="1.3" stroke-linejoin="miter"/>
<polyline points="440.2,461.5 443.3,461.5 443.3,461.5 443.6,461.5 443.6,470.5 450.3,470.5 450.3,470.5 451.0,470.5 451.0,480.6 466.5,480.6 466.5,480.6 467.3,480.6 467.3,494.5 470.4,494.5 470.4,494.5 470.7,494.5 470.7,508.2 524.4,508.2 524.4,508.2 524.7,508.2 524.7,589.9" fill="none" stroke="#111" stroke-width="1.4" stroke-linejoin="miter"/>
<line x1="446.4" y1="468.9" x2="446.4" y2="472.1" stroke="#111" stroke-width="1.1"/>
<line x1="458.8" y1="479.0" x2="458.8" y2="482.2" stroke="#111" stroke-width="1.1"/>
<line x1="465.7" y1="479.0" x2="465.7" y2="482.2" stroke="#111" stroke-width="1.1"/>
<line x1="478.9" y1="506.8" x2="478.9" y2="510.0" stroke="#111" stroke-width="1.1"/>
<line x1="501.3" y1="506.3" x2="501.3" y2="509.5" stroke="#111" stroke-width="1.1"/>
<line x1="507.3" y1="506.3" x2="507.3" y2="509.5" stroke="#111" stroke-width="1.1"/>
<line x1="509.9" y1="506.3" x2="509.9" y2="509.5" stroke="#111" stroke-width="1.1"/>
<line x1="465.7" y1="525.4" x2="465.7" y2="528.6" stroke="#a87a7c" stroke-width="1.1"/>
<line x1="541.5" y1="556.7" x2="541.5" y2="559.9" stroke="#a87a7c" stroke-width="1.1"/>
</svg></body></html>
